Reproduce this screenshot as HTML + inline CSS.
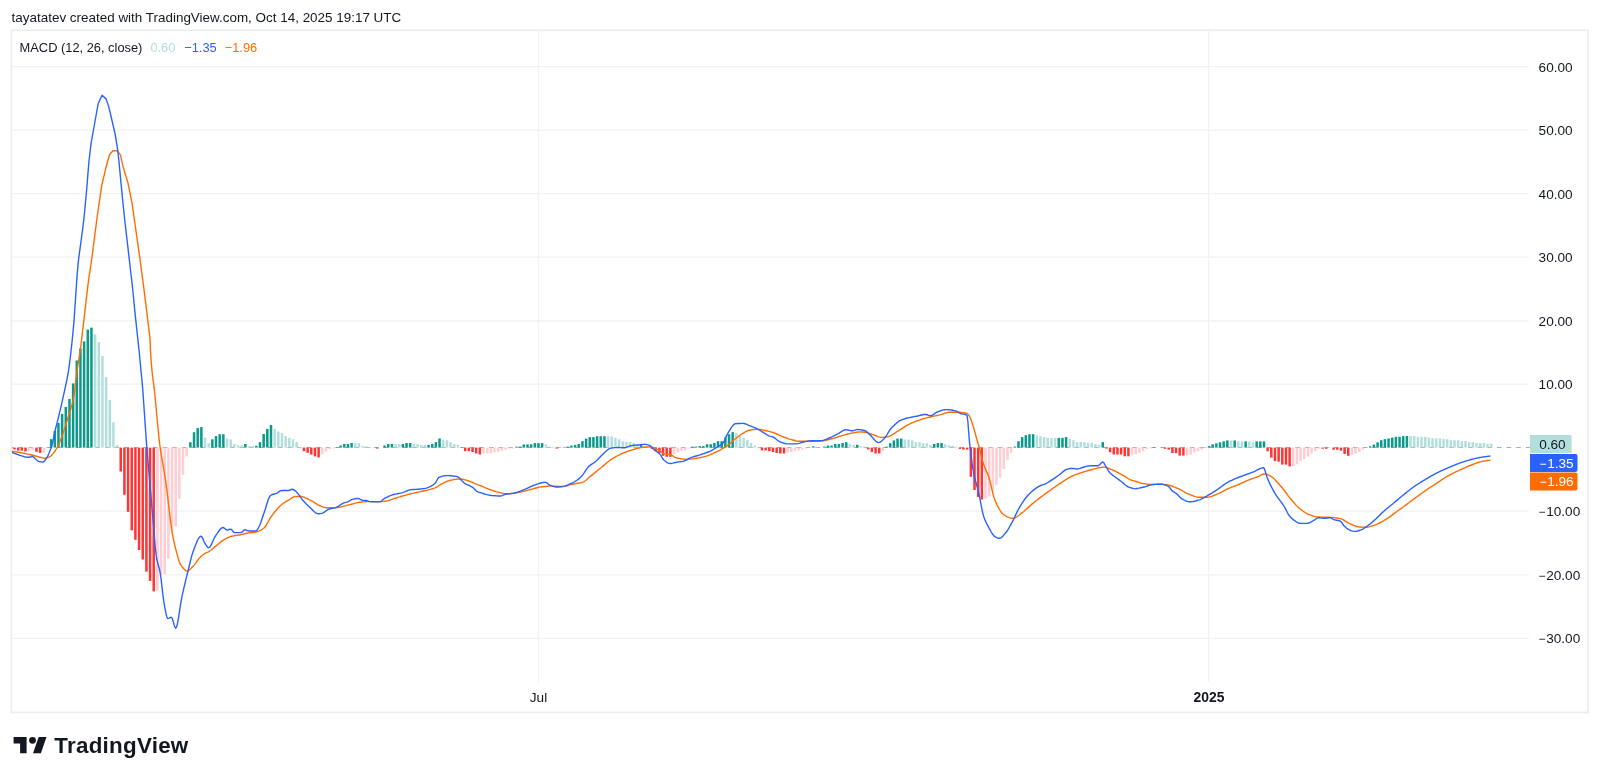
<!DOCTYPE html>
<html><head><meta charset="utf-8">
<style>
html,body{margin:0;padding:0;background:#fff;}
body{width:1600px;height:779px;overflow:hidden;position:relative;font-family:"Liberation Sans",sans-serif;color:#131722;}
svg{position:absolute;left:0;top:0;will-change:transform;}
</style></head><body>
<svg width="1600" height="779" viewBox="0 0 1600 779" font-family="Liberation Sans, sans-serif">
<defs><clipPath id="c"><rect x="12" y="31" width="1576" height="680"/></clipPath></defs>
<text x="11.6" y="21.9" font-size="13.45" fill="#131722">tayatatev created with TradingView.com, Oct 14, 2025 19:17 UTC</text>
<rect x="11.4" y="30.3" width="1576.6" height="682.1" fill="none" stroke="#ededed" stroke-width="1.7"/>
<g stroke="#f1f1f1" stroke-width="1.2">
<line x1="12" y1="66.6" x2="1529" y2="66.6"/>
<line x1="12" y1="130.2" x2="1529" y2="130.2"/>
<line x1="12" y1="193.7" x2="1529" y2="193.7"/>
<line x1="12" y1="257.2" x2="1529" y2="257.2"/>
<line x1="12" y1="320.8" x2="1529" y2="320.8"/>
<line x1="12" y1="384.2" x2="1529" y2="384.2"/>
<line x1="12" y1="511.2" x2="1529" y2="511.2"/>
<line x1="12" y1="574.8" x2="1529" y2="574.8"/>
<line x1="12" y1="638.4" x2="1529" y2="638.4"/>
<line x1="538.5" y1="31" x2="538.5" y2="682"/>
<line x1="1208.6" y1="31" x2="1208.6" y2="682"/>
</g>
<g clip-path="url(#c)">
<line x1="12" y1="447.5" x2="1530" y2="447.5" stroke="#9598a1" stroke-width="1" stroke-dasharray="4.6 5" stroke-dashoffset="-6.6" opacity="0.8"/>
<rect x="9.58" y="447.60" width="2.5" height="1.50" fill="#ff3535"/>
<rect x="13.24" y="447.60" width="2.5" height="1.85" fill="#ff3535"/>
<rect x="16.91" y="447.60" width="2.5" height="3.00" fill="#ff3535"/>
<rect x="20.57" y="447.60" width="2.5" height="3.00" fill="#ff3535"/>
<rect x="24.23" y="447.60" width="2.5" height="3.80" fill="#ff3535"/>
<rect x="27.90" y="447.60" width="2.5" height="3.50" fill="#ffcdd2"/>
<rect x="31.56" y="447.60" width="2.5" height="2.00" fill="#ffcdd2"/>
<rect x="35.23" y="447.60" width="2.5" height="4.20" fill="#ff3535"/>
<rect x="38.89" y="447.60" width="2.5" height="5.30" fill="#ff3535"/>
<rect x="42.56" y="447.60" width="2.5" height="4.90" fill="#ffcdd2"/>
<rect x="46.22" y="447.30" width="2.5" height="0.30" fill="#0a9a8a"/>
<rect x="49.88" y="439.20" width="2.5" height="8.40" fill="#0a9a8a"/>
<rect x="53.55" y="430.90" width="2.5" height="16.70" fill="#0a9a8a"/>
<rect x="57.21" y="422.90" width="2.5" height="24.70" fill="#0a9a8a"/>
<rect x="60.88" y="413.90" width="2.5" height="33.70" fill="#0a9a8a"/>
<rect x="64.54" y="406.90" width="2.5" height="40.70" fill="#0a9a8a"/>
<rect x="68.21" y="399.00" width="2.5" height="48.60" fill="#0a9a8a"/>
<rect x="71.87" y="383.40" width="2.5" height="64.20" fill="#0a9a8a"/>
<rect x="75.53" y="360.50" width="2.5" height="87.10" fill="#0a9a8a"/>
<rect x="79.20" y="348.40" width="2.5" height="99.20" fill="#0a9a8a"/>
<rect x="82.86" y="341.40" width="2.5" height="106.20" fill="#0a9a8a"/>
<rect x="86.53" y="329.60" width="2.5" height="118.00" fill="#0a9a8a"/>
<rect x="90.19" y="327.60" width="2.5" height="120.00" fill="#0a9a8a"/>
<rect x="93.85" y="334.40" width="2.5" height="113.20" fill="#b2dfdb"/>
<rect x="97.52" y="342.00" width="2.5" height="105.60" fill="#b2dfdb"/>
<rect x="101.18" y="356.00" width="2.5" height="91.60" fill="#b2dfdb"/>
<rect x="104.85" y="377.00" width="2.5" height="70.60" fill="#b2dfdb"/>
<rect x="108.51" y="399.90" width="2.5" height="47.70" fill="#b2dfdb"/>
<rect x="112.18" y="422.20" width="2.5" height="25.40" fill="#b2dfdb"/>
<rect x="115.84" y="445.10" width="2.5" height="2.50" fill="#b2dfdb"/>
<rect x="119.50" y="447.60" width="2.5" height="23.90" fill="#ff3535"/>
<rect x="123.17" y="447.60" width="2.5" height="47.10" fill="#ff3535"/>
<rect x="126.83" y="447.60" width="2.5" height="64.20" fill="#ff3535"/>
<rect x="130.50" y="447.60" width="2.5" height="82.70" fill="#ff3535"/>
<rect x="134.16" y="447.60" width="2.5" height="92.20" fill="#ff3535"/>
<rect x="137.82" y="447.60" width="2.5" height="102.40" fill="#ff3535"/>
<rect x="141.49" y="447.60" width="2.5" height="111.90" fill="#ff3535"/>
<rect x="145.15" y="447.60" width="2.5" height="124.00" fill="#ff3535"/>
<rect x="148.82" y="447.60" width="2.5" height="133.30" fill="#ff3535"/>
<rect x="152.48" y="447.60" width="2.5" height="143.80" fill="#ff3535"/>
<rect x="156.15" y="447.60" width="2.5" height="142.90" fill="#ffcdd2"/>
<rect x="159.81" y="447.60" width="2.5" height="127.50" fill="#ffcdd2"/>
<rect x="163.47" y="447.60" width="2.5" height="126.60" fill="#ffcdd2"/>
<rect x="167.14" y="447.60" width="2.5" height="111.00" fill="#ffcdd2"/>
<rect x="170.80" y="447.60" width="2.5" height="82.00" fill="#ffcdd2"/>
<rect x="174.47" y="447.60" width="2.5" height="78.90" fill="#ffcdd2"/>
<rect x="178.13" y="447.60" width="2.5" height="51.20" fill="#ffcdd2"/>
<rect x="181.79" y="447.60" width="2.5" height="27.10" fill="#ffcdd2"/>
<rect x="185.46" y="447.60" width="2.5" height="8.80" fill="#ffcdd2"/>
<rect x="189.12" y="442.20" width="2.5" height="5.40" fill="#0a9a8a"/>
<rect x="192.79" y="432.20" width="2.5" height="15.40" fill="#0a9a8a"/>
<rect x="196.45" y="428.10" width="2.5" height="19.50" fill="#0a9a8a"/>
<rect x="200.12" y="427.10" width="2.5" height="20.50" fill="#0a9a8a"/>
<rect x="203.78" y="437.60" width="2.5" height="10.00" fill="#b2dfdb"/>
<rect x="207.44" y="443.30" width="2.5" height="4.30" fill="#b2dfdb"/>
<rect x="211.11" y="439.30" width="2.5" height="8.30" fill="#0a9a8a"/>
<rect x="214.77" y="436.10" width="2.5" height="11.50" fill="#0a9a8a"/>
<rect x="218.44" y="434.20" width="2.5" height="13.40" fill="#0a9a8a"/>
<rect x="222.10" y="434.20" width="2.5" height="13.40" fill="#0a9a8a"/>
<rect x="225.77" y="438.60" width="2.5" height="9.00" fill="#b2dfdb"/>
<rect x="229.43" y="439.40" width="2.5" height="8.20" fill="#b2dfdb"/>
<rect x="233.09" y="444.00" width="2.5" height="3.60" fill="#b2dfdb"/>
<rect x="236.76" y="445.10" width="2.5" height="2.50" fill="#b2dfdb"/>
<rect x="240.42" y="445.20" width="2.5" height="2.40" fill="#b2dfdb"/>
<rect x="244.09" y="444.00" width="2.5" height="3.60" fill="#0a9a8a"/>
<rect x="247.75" y="446.10" width="2.5" height="1.50" fill="#b2dfdb"/>
<rect x="251.41" y="446.10" width="2.5" height="1.50" fill="#b2dfdb"/>
<rect x="255.08" y="445.80" width="2.5" height="1.80" fill="#0a9a8a"/>
<rect x="258.74" y="442.20" width="2.5" height="5.40" fill="#0a9a8a"/>
<rect x="262.41" y="434.00" width="2.5" height="13.60" fill="#0a9a8a"/>
<rect x="266.07" y="429.00" width="2.5" height="18.60" fill="#0a9a8a"/>
<rect x="269.74" y="425.00" width="2.5" height="22.60" fill="#0a9a8a"/>
<rect x="273.40" y="429.00" width="2.5" height="18.60" fill="#b2dfdb"/>
<rect x="277.06" y="431.50" width="2.5" height="16.10" fill="#b2dfdb"/>
<rect x="280.73" y="433.10" width="2.5" height="14.50" fill="#b2dfdb"/>
<rect x="284.39" y="436.10" width="2.5" height="11.50" fill="#b2dfdb"/>
<rect x="288.06" y="437.90" width="2.5" height="9.70" fill="#b2dfdb"/>
<rect x="291.72" y="439.30" width="2.5" height="8.30" fill="#b2dfdb"/>
<rect x="295.38" y="442.00" width="2.5" height="5.60" fill="#b2dfdb"/>
<rect x="299.05" y="447.10" width="2.5" height="0.50" fill="#b2dfdb"/>
<rect x="302.71" y="447.60" width="2.5" height="3.60" fill="#ff3535"/>
<rect x="306.38" y="447.60" width="2.5" height="5.20" fill="#ff3535"/>
<rect x="310.04" y="447.60" width="2.5" height="7.00" fill="#ff3535"/>
<rect x="313.71" y="447.60" width="2.5" height="8.80" fill="#ff3535"/>
<rect x="317.37" y="447.60" width="2.5" height="9.80" fill="#ff3535"/>
<rect x="321.03" y="447.60" width="2.5" height="6.70" fill="#ffcdd2"/>
<rect x="324.70" y="447.60" width="2.5" height="4.10" fill="#ffcdd2"/>
<rect x="328.36" y="447.60" width="2.5" height="1.60" fill="#ffcdd2"/>
<rect x="332.03" y="447.60" width="2.5" height="0.80" fill="#ffcdd2"/>
<rect x="335.69" y="447.20" width="2.5" height="0.40" fill="#0a9a8a"/>
<rect x="339.36" y="445.50" width="2.5" height="2.10" fill="#0a9a8a"/>
<rect x="343.02" y="444.00" width="2.5" height="3.60" fill="#0a9a8a"/>
<rect x="346.68" y="444.00" width="2.5" height="3.60" fill="#0a9a8a"/>
<rect x="350.35" y="443.00" width="2.5" height="4.60" fill="#0a9a8a"/>
<rect x="354.01" y="443.20" width="2.5" height="4.40" fill="#b2dfdb"/>
<rect x="357.68" y="443.20" width="2.5" height="4.40" fill="#b2dfdb"/>
<rect x="361.34" y="445.80" width="2.5" height="1.80" fill="#b2dfdb"/>
<rect x="365.00" y="446.60" width="2.5" height="1.00" fill="#b2dfdb"/>
<rect x="368.67" y="447.60" width="2.5" height="0.30" fill="#ff3535"/>
<rect x="372.33" y="447.60" width="2.5" height="0.10" fill="#ffcdd2"/>
<rect x="376.00" y="447.60" width="2.5" height="1.00" fill="#ff3535"/>
<rect x="379.66" y="447.60" width="2.5" height="0.10" fill="#ffcdd2"/>
<rect x="383.33" y="445.50" width="2.5" height="2.10" fill="#0a9a8a"/>
<rect x="386.99" y="444.00" width="2.5" height="3.60" fill="#0a9a8a"/>
<rect x="390.65" y="443.90" width="2.5" height="3.70" fill="#0a9a8a"/>
<rect x="394.32" y="444.00" width="2.5" height="3.60" fill="#b2dfdb"/>
<rect x="397.98" y="444.10" width="2.5" height="3.50" fill="#b2dfdb"/>
<rect x="401.65" y="444.00" width="2.5" height="3.60" fill="#0a9a8a"/>
<rect x="405.31" y="443.00" width="2.5" height="4.60" fill="#0a9a8a"/>
<rect x="408.97" y="443.00" width="2.5" height="4.60" fill="#0a9a8a"/>
<rect x="412.64" y="444.00" width="2.5" height="3.60" fill="#b2dfdb"/>
<rect x="416.30" y="444.00" width="2.5" height="3.60" fill="#b2dfdb"/>
<rect x="419.97" y="445.00" width="2.5" height="2.60" fill="#b2dfdb"/>
<rect x="423.63" y="445.00" width="2.5" height="2.60" fill="#b2dfdb"/>
<rect x="427.30" y="444.90" width="2.5" height="2.70" fill="#0a9a8a"/>
<rect x="430.96" y="444.00" width="2.5" height="3.60" fill="#0a9a8a"/>
<rect x="434.62" y="442.20" width="2.5" height="5.40" fill="#0a9a8a"/>
<rect x="438.29" y="438.40" width="2.5" height="9.20" fill="#0a9a8a"/>
<rect x="441.95" y="440.20" width="2.5" height="7.40" fill="#b2dfdb"/>
<rect x="445.62" y="440.20" width="2.5" height="7.40" fill="#b2dfdb"/>
<rect x="449.28" y="442.20" width="2.5" height="5.40" fill="#b2dfdb"/>
<rect x="452.94" y="444.00" width="2.5" height="3.60" fill="#b2dfdb"/>
<rect x="456.61" y="445.00" width="2.5" height="2.60" fill="#b2dfdb"/>
<rect x="460.27" y="447.60" width="2.5" height="0.30" fill="#ff3535"/>
<rect x="463.94" y="447.60" width="2.5" height="3.60" fill="#ff3535"/>
<rect x="467.60" y="447.60" width="2.5" height="3.60" fill="#ff3535"/>
<rect x="471.27" y="447.60" width="2.5" height="4.40" fill="#ff3535"/>
<rect x="474.93" y="447.60" width="2.5" height="5.90" fill="#ff3535"/>
<rect x="478.59" y="447.60" width="2.5" height="6.90" fill="#ff3535"/>
<rect x="482.26" y="447.60" width="2.5" height="5.90" fill="#ffcdd2"/>
<rect x="485.92" y="447.60" width="2.5" height="5.80" fill="#ffcdd2"/>
<rect x="489.59" y="447.60" width="2.5" height="5.70" fill="#ffcdd2"/>
<rect x="493.25" y="447.60" width="2.5" height="4.60" fill="#ffcdd2"/>
<rect x="496.92" y="447.60" width="2.5" height="4.60" fill="#ffcdd2"/>
<rect x="500.58" y="447.60" width="2.5" height="3.10" fill="#ffcdd2"/>
<rect x="504.24" y="447.60" width="2.5" height="2.10" fill="#ffcdd2"/>
<rect x="507.91" y="447.60" width="2.5" height="1.00" fill="#ffcdd2"/>
<rect x="511.57" y="447.60" width="2.5" height="1.00" fill="#ffcdd2"/>
<rect x="515.24" y="446.60" width="2.5" height="1.00" fill="#0a9a8a"/>
<rect x="518.90" y="446.50" width="2.5" height="1.10" fill="#0a9a8a"/>
<rect x="522.56" y="444.50" width="2.5" height="3.10" fill="#0a9a8a"/>
<rect x="526.23" y="444.40" width="2.5" height="3.20" fill="#0a9a8a"/>
<rect x="529.89" y="444.30" width="2.5" height="3.30" fill="#0a9a8a"/>
<rect x="533.56" y="443.10" width="2.5" height="4.50" fill="#0a9a8a"/>
<rect x="537.22" y="443.10" width="2.5" height="4.50" fill="#0a9a8a"/>
<rect x="540.89" y="443.10" width="2.5" height="4.50" fill="#0a9a8a"/>
<rect x="544.55" y="444.30" width="2.5" height="3.30" fill="#b2dfdb"/>
<rect x="548.21" y="446.80" width="2.5" height="0.80" fill="#b2dfdb"/>
<rect x="551.88" y="446.80" width="2.5" height="0.80" fill="#b2dfdb"/>
<rect x="555.54" y="447.60" width="2.5" height="1.00" fill="#ff3535"/>
<rect x="559.21" y="447.60" width="2.5" height="0.50" fill="#ffcdd2"/>
<rect x="562.87" y="447.10" width="2.5" height="0.50" fill="#0a9a8a"/>
<rect x="566.53" y="446.60" width="2.5" height="1.00" fill="#0a9a8a"/>
<rect x="570.20" y="445.50" width="2.5" height="2.10" fill="#0a9a8a"/>
<rect x="573.86" y="444.90" width="2.5" height="2.70" fill="#0a9a8a"/>
<rect x="577.53" y="444.00" width="2.5" height="3.60" fill="#0a9a8a"/>
<rect x="581.19" y="441.20" width="2.5" height="6.40" fill="#0a9a8a"/>
<rect x="584.86" y="438.60" width="2.5" height="9.00" fill="#0a9a8a"/>
<rect x="588.52" y="437.10" width="2.5" height="10.50" fill="#0a9a8a"/>
<rect x="592.18" y="437.10" width="2.5" height="10.50" fill="#0a9a8a"/>
<rect x="595.85" y="436.20" width="2.5" height="11.40" fill="#0a9a8a"/>
<rect x="599.51" y="436.20" width="2.5" height="11.40" fill="#0a9a8a"/>
<rect x="603.18" y="436.20" width="2.5" height="11.40" fill="#0a9a8a"/>
<rect x="606.84" y="436.30" width="2.5" height="11.30" fill="#b2dfdb"/>
<rect x="610.51" y="436.40" width="2.5" height="11.20" fill="#b2dfdb"/>
<rect x="614.17" y="437.80" width="2.5" height="9.80" fill="#b2dfdb"/>
<rect x="617.83" y="439.30" width="2.5" height="8.30" fill="#b2dfdb"/>
<rect x="621.50" y="441.20" width="2.5" height="6.40" fill="#b2dfdb"/>
<rect x="625.16" y="442.00" width="2.5" height="5.60" fill="#b2dfdb"/>
<rect x="628.83" y="442.00" width="2.5" height="5.60" fill="#b2dfdb"/>
<rect x="632.49" y="443.00" width="2.5" height="4.60" fill="#b2dfdb"/>
<rect x="636.15" y="444.40" width="2.5" height="3.20" fill="#b2dfdb"/>
<rect x="639.82" y="444.30" width="2.5" height="3.30" fill="#0a9a8a"/>
<rect x="643.48" y="446.10" width="2.5" height="1.50" fill="#b2dfdb"/>
<rect x="647.15" y="447.60" width="2.5" height="0.30" fill="#ff3535"/>
<rect x="650.81" y="447.60" width="2.5" height="1.30" fill="#ff3535"/>
<rect x="654.48" y="447.60" width="2.5" height="3.30" fill="#ff3535"/>
<rect x="658.14" y="447.60" width="2.5" height="5.40" fill="#ff3535"/>
<rect x="661.80" y="447.60" width="2.5" height="8.20" fill="#ff3535"/>
<rect x="665.47" y="447.60" width="2.5" height="9.20" fill="#ff3535"/>
<rect x="669.13" y="447.60" width="2.5" height="9.20" fill="#ff3535"/>
<rect x="672.80" y="447.60" width="2.5" height="6.40" fill="#ffcdd2"/>
<rect x="676.46" y="447.60" width="2.5" height="4.90" fill="#ffcdd2"/>
<rect x="680.12" y="447.60" width="2.5" height="3.10" fill="#ffcdd2"/>
<rect x="683.79" y="447.60" width="2.5" height="3.10" fill="#ffcdd2"/>
<rect x="687.45" y="447.60" width="2.5" height="1.00" fill="#ffcdd2"/>
<rect x="691.12" y="446.60" width="2.5" height="1.00" fill="#0a9a8a"/>
<rect x="694.78" y="446.60" width="2.5" height="1.00" fill="#0a9a8a"/>
<rect x="698.45" y="446.10" width="2.5" height="1.50" fill="#0a9a8a"/>
<rect x="702.11" y="446.10" width="2.5" height="1.50" fill="#0a9a8a"/>
<rect x="705.77" y="444.30" width="2.5" height="3.30" fill="#0a9a8a"/>
<rect x="709.44" y="444.20" width="2.5" height="3.40" fill="#0a9a8a"/>
<rect x="713.10" y="443.00" width="2.5" height="4.60" fill="#0a9a8a"/>
<rect x="716.77" y="441.20" width="2.5" height="6.40" fill="#0a9a8a"/>
<rect x="720.43" y="441.20" width="2.5" height="6.40" fill="#0a9a8a"/>
<rect x="724.10" y="437.60" width="2.5" height="10.00" fill="#0a9a8a"/>
<rect x="727.76" y="434.20" width="2.5" height="13.40" fill="#0a9a8a"/>
<rect x="731.42" y="432.20" width="2.5" height="15.40" fill="#0a9a8a"/>
<rect x="735.09" y="433.20" width="2.5" height="14.40" fill="#b2dfdb"/>
<rect x="738.75" y="436.00" width="2.5" height="11.60" fill="#b2dfdb"/>
<rect x="742.42" y="437.80" width="2.5" height="9.80" fill="#b2dfdb"/>
<rect x="746.08" y="440.20" width="2.5" height="7.40" fill="#b2dfdb"/>
<rect x="749.74" y="443.00" width="2.5" height="4.60" fill="#b2dfdb"/>
<rect x="753.41" y="445.50" width="2.5" height="2.10" fill="#b2dfdb"/>
<rect x="757.07" y="447.10" width="2.5" height="0.50" fill="#b2dfdb"/>
<rect x="760.74" y="447.60" width="2.5" height="2.80" fill="#ff3535"/>
<rect x="764.40" y="447.60" width="2.5" height="2.80" fill="#ff3535"/>
<rect x="768.07" y="447.60" width="2.5" height="3.60" fill="#ff3535"/>
<rect x="771.73" y="447.60" width="2.5" height="4.40" fill="#ff3535"/>
<rect x="775.39" y="447.60" width="2.5" height="5.40" fill="#ff3535"/>
<rect x="779.06" y="447.60" width="2.5" height="5.90" fill="#ff3535"/>
<rect x="782.72" y="447.60" width="2.5" height="5.90" fill="#ff3535"/>
<rect x="786.39" y="447.60" width="2.5" height="5.00" fill="#ffcdd2"/>
<rect x="790.05" y="447.60" width="2.5" height="4.40" fill="#ffcdd2"/>
<rect x="793.71" y="447.60" width="2.5" height="3.60" fill="#ffcdd2"/>
<rect x="797.38" y="447.60" width="2.5" height="2.80" fill="#ffcdd2"/>
<rect x="801.04" y="447.60" width="2.5" height="1.80" fill="#ffcdd2"/>
<rect x="804.71" y="447.60" width="2.5" height="0.80" fill="#ffcdd2"/>
<rect x="808.37" y="447.60" width="2.5" height="0.20" fill="#ffcdd2"/>
<rect x="812.04" y="446.30" width="2.5" height="1.30" fill="#0a9a8a"/>
<rect x="815.70" y="447.30" width="2.5" height="0.30" fill="#b2dfdb"/>
<rect x="819.36" y="447.30" width="2.5" height="0.30" fill="#b2dfdb"/>
<rect x="823.03" y="446.60" width="2.5" height="1.00" fill="#0a9a8a"/>
<rect x="826.69" y="445.50" width="2.5" height="2.10" fill="#0a9a8a"/>
<rect x="830.36" y="445.50" width="2.5" height="2.10" fill="#0a9a8a"/>
<rect x="834.02" y="444.00" width="2.5" height="3.60" fill="#0a9a8a"/>
<rect x="837.68" y="444.00" width="2.5" height="3.60" fill="#0a9a8a"/>
<rect x="841.35" y="443.00" width="2.5" height="4.60" fill="#0a9a8a"/>
<rect x="845.01" y="442.20" width="2.5" height="5.40" fill="#0a9a8a"/>
<rect x="848.68" y="444.00" width="2.5" height="3.60" fill="#b2dfdb"/>
<rect x="852.34" y="445.00" width="2.5" height="2.60" fill="#b2dfdb"/>
<rect x="856.01" y="444.80" width="2.5" height="2.80" fill="#0a9a8a"/>
<rect x="859.67" y="446.00" width="2.5" height="1.60" fill="#b2dfdb"/>
<rect x="863.33" y="446.60" width="2.5" height="1.00" fill="#b2dfdb"/>
<rect x="867.00" y="447.60" width="2.5" height="1.80" fill="#ff3535"/>
<rect x="870.66" y="447.60" width="2.5" height="4.40" fill="#ff3535"/>
<rect x="874.33" y="447.60" width="2.5" height="5.90" fill="#ff3535"/>
<rect x="877.99" y="447.60" width="2.5" height="5.90" fill="#ff3535"/>
<rect x="881.66" y="447.60" width="2.5" height="3.30" fill="#ffcdd2"/>
<rect x="885.32" y="446.60" width="2.5" height="1.00" fill="#0a9a8a"/>
<rect x="888.98" y="443.20" width="2.5" height="4.40" fill="#0a9a8a"/>
<rect x="892.65" y="440.40" width="2.5" height="7.20" fill="#0a9a8a"/>
<rect x="896.31" y="438.60" width="2.5" height="9.00" fill="#0a9a8a"/>
<rect x="899.98" y="438.60" width="2.5" height="9.00" fill="#0a9a8a"/>
<rect x="903.64" y="439.60" width="2.5" height="8.00" fill="#b2dfdb"/>
<rect x="907.30" y="439.60" width="2.5" height="8.00" fill="#b2dfdb"/>
<rect x="910.97" y="440.40" width="2.5" height="7.20" fill="#b2dfdb"/>
<rect x="914.63" y="442.20" width="2.5" height="5.40" fill="#b2dfdb"/>
<rect x="918.30" y="442.20" width="2.5" height="5.40" fill="#b2dfdb"/>
<rect x="921.96" y="443.20" width="2.5" height="4.40" fill="#b2dfdb"/>
<rect x="925.63" y="443.20" width="2.5" height="4.40" fill="#b2dfdb"/>
<rect x="929.29" y="445.00" width="2.5" height="2.60" fill="#b2dfdb"/>
<rect x="932.95" y="444.00" width="2.5" height="3.60" fill="#0a9a8a"/>
<rect x="936.62" y="443.10" width="2.5" height="4.50" fill="#0a9a8a"/>
<rect x="940.28" y="443.00" width="2.5" height="4.60" fill="#0a9a8a"/>
<rect x="943.95" y="444.30" width="2.5" height="3.30" fill="#b2dfdb"/>
<rect x="947.61" y="445.30" width="2.5" height="2.30" fill="#b2dfdb"/>
<rect x="951.27" y="445.80" width="2.5" height="1.80" fill="#b2dfdb"/>
<rect x="954.94" y="446.60" width="2.5" height="1.00" fill="#b2dfdb"/>
<rect x="958.60" y="447.60" width="2.5" height="1.30" fill="#ff3535"/>
<rect x="962.27" y="447.60" width="2.5" height="2.00" fill="#ff3535"/>
<rect x="965.93" y="447.60" width="2.5" height="2.00" fill="#ff3535"/>
<rect x="969.60" y="447.60" width="2.5" height="29.20" fill="#ff3535"/>
<rect x="973.26" y="447.60" width="2.5" height="42.40" fill="#ff3535"/>
<rect x="976.92" y="447.60" width="2.5" height="49.40" fill="#ff3535"/>
<rect x="980.59" y="447.60" width="2.5" height="51.90" fill="#ff3535"/>
<rect x="984.25" y="447.60" width="2.5" height="51.00" fill="#ffcdd2"/>
<rect x="987.92" y="447.60" width="2.5" height="48.70" fill="#ffcdd2"/>
<rect x="991.58" y="447.60" width="2.5" height="43.60" fill="#ffcdd2"/>
<rect x="995.25" y="447.60" width="2.5" height="37.20" fill="#ffcdd2"/>
<rect x="998.91" y="447.60" width="2.5" height="30.10" fill="#ffcdd2"/>
<rect x="1002.57" y="447.60" width="2.5" height="21.50" fill="#ffcdd2"/>
<rect x="1006.24" y="447.60" width="2.5" height="12.50" fill="#ffcdd2"/>
<rect x="1009.90" y="447.60" width="2.5" height="5.20" fill="#ffcdd2"/>
<rect x="1013.57" y="446.60" width="2.5" height="1.00" fill="#0a9a8a"/>
<rect x="1017.23" y="441.20" width="2.5" height="6.40" fill="#0a9a8a"/>
<rect x="1020.89" y="437.10" width="2.5" height="10.50" fill="#0a9a8a"/>
<rect x="1024.56" y="435.20" width="2.5" height="12.40" fill="#0a9a8a"/>
<rect x="1028.22" y="434.20" width="2.5" height="13.40" fill="#0a9a8a"/>
<rect x="1031.89" y="434.20" width="2.5" height="13.40" fill="#0a9a8a"/>
<rect x="1035.55" y="435.30" width="2.5" height="12.30" fill="#b2dfdb"/>
<rect x="1039.22" y="436.20" width="2.5" height="11.40" fill="#b2dfdb"/>
<rect x="1042.88" y="437.10" width="2.5" height="10.50" fill="#b2dfdb"/>
<rect x="1046.54" y="437.90" width="2.5" height="9.70" fill="#b2dfdb"/>
<rect x="1050.21" y="437.90" width="2.5" height="9.70" fill="#b2dfdb"/>
<rect x="1053.87" y="438.00" width="2.5" height="9.60" fill="#b2dfdb"/>
<rect x="1057.54" y="437.90" width="2.5" height="9.70" fill="#0a9a8a"/>
<rect x="1061.20" y="437.90" width="2.5" height="9.70" fill="#0a9a8a"/>
<rect x="1064.86" y="437.10" width="2.5" height="10.50" fill="#0a9a8a"/>
<rect x="1068.53" y="438.90" width="2.5" height="8.70" fill="#b2dfdb"/>
<rect x="1072.19" y="440.20" width="2.5" height="7.40" fill="#b2dfdb"/>
<rect x="1075.86" y="442.10" width="2.5" height="5.50" fill="#b2dfdb"/>
<rect x="1079.52" y="442.10" width="2.5" height="5.50" fill="#b2dfdb"/>
<rect x="1083.19" y="442.10" width="2.5" height="5.50" fill="#b2dfdb"/>
<rect x="1086.85" y="443.00" width="2.5" height="4.60" fill="#b2dfdb"/>
<rect x="1090.51" y="443.00" width="2.5" height="4.60" fill="#b2dfdb"/>
<rect x="1094.18" y="444.00" width="2.5" height="3.60" fill="#b2dfdb"/>
<rect x="1097.84" y="445.00" width="2.5" height="2.60" fill="#b2dfdb"/>
<rect x="1101.51" y="442.10" width="2.5" height="5.50" fill="#0a9a8a"/>
<rect x="1105.17" y="447.60" width="2.5" height="1.00" fill="#ff3535"/>
<rect x="1108.84" y="447.60" width="2.5" height="4.60" fill="#ff3535"/>
<rect x="1112.50" y="447.60" width="2.5" height="6.90" fill="#ff3535"/>
<rect x="1116.16" y="447.60" width="2.5" height="6.90" fill="#ff3535"/>
<rect x="1119.83" y="447.60" width="2.5" height="6.90" fill="#ff3535"/>
<rect x="1123.49" y="447.60" width="2.5" height="8.70" fill="#ff3535"/>
<rect x="1127.16" y="447.60" width="2.5" height="8.70" fill="#ff3535"/>
<rect x="1130.82" y="447.60" width="2.5" height="7.70" fill="#ffcdd2"/>
<rect x="1134.48" y="447.60" width="2.5" height="6.70" fill="#ffcdd2"/>
<rect x="1138.15" y="447.60" width="2.5" height="5.10" fill="#ffcdd2"/>
<rect x="1141.81" y="447.60" width="2.5" height="3.30" fill="#ffcdd2"/>
<rect x="1145.48" y="447.60" width="2.5" height="1.50" fill="#ffcdd2"/>
<rect x="1149.14" y="447.60" width="2.5" height="0.80" fill="#ffcdd2"/>
<rect x="1152.81" y="447.10" width="2.5" height="0.50" fill="#0a9a8a"/>
<rect x="1156.47" y="447.40" width="2.5" height="0.20" fill="#b2dfdb"/>
<rect x="1160.13" y="447.60" width="2.5" height="0.30" fill="#ff3535"/>
<rect x="1163.80" y="447.60" width="2.5" height="1.20" fill="#ff3535"/>
<rect x="1167.46" y="447.60" width="2.5" height="2.00" fill="#ff3535"/>
<rect x="1171.13" y="447.60" width="2.5" height="5.40" fill="#ff3535"/>
<rect x="1174.79" y="447.60" width="2.5" height="5.60" fill="#ff3535"/>
<rect x="1178.45" y="447.60" width="2.5" height="8.00" fill="#ff3535"/>
<rect x="1182.12" y="447.60" width="2.5" height="8.00" fill="#ff3535"/>
<rect x="1185.78" y="447.60" width="2.5" height="7.90" fill="#ffcdd2"/>
<rect x="1189.45" y="447.60" width="2.5" height="6.90" fill="#ffcdd2"/>
<rect x="1193.11" y="447.60" width="2.5" height="4.60" fill="#ffcdd2"/>
<rect x="1196.78" y="447.60" width="2.5" height="3.60" fill="#ffcdd2"/>
<rect x="1200.44" y="447.60" width="2.5" height="1.80" fill="#ffcdd2"/>
<rect x="1204.10" y="447.30" width="2.5" height="0.30" fill="#0a9a8a"/>
<rect x="1207.77" y="446.10" width="2.5" height="1.50" fill="#0a9a8a"/>
<rect x="1211.43" y="444.30" width="2.5" height="3.30" fill="#0a9a8a"/>
<rect x="1215.10" y="443.30" width="2.5" height="4.30" fill="#0a9a8a"/>
<rect x="1218.76" y="442.30" width="2.5" height="5.30" fill="#0a9a8a"/>
<rect x="1222.42" y="441.30" width="2.5" height="6.30" fill="#0a9a8a"/>
<rect x="1226.09" y="440.40" width="2.5" height="7.20" fill="#0a9a8a"/>
<rect x="1229.75" y="440.50" width="2.5" height="7.10" fill="#b2dfdb"/>
<rect x="1233.42" y="440.40" width="2.5" height="7.20" fill="#0a9a8a"/>
<rect x="1237.08" y="441.30" width="2.5" height="6.30" fill="#b2dfdb"/>
<rect x="1240.75" y="441.40" width="2.5" height="6.20" fill="#b2dfdb"/>
<rect x="1244.41" y="441.30" width="2.5" height="6.30" fill="#0a9a8a"/>
<rect x="1248.07" y="441.40" width="2.5" height="6.20" fill="#b2dfdb"/>
<rect x="1251.74" y="442.30" width="2.5" height="5.30" fill="#b2dfdb"/>
<rect x="1255.40" y="441.40" width="2.5" height="6.20" fill="#0a9a8a"/>
<rect x="1259.07" y="441.40" width="2.5" height="6.20" fill="#0a9a8a"/>
<rect x="1262.73" y="441.40" width="2.5" height="6.20" fill="#0a9a8a"/>
<rect x="1266.40" y="447.60" width="2.5" height="3.70" fill="#ff3535"/>
<rect x="1270.06" y="447.60" width="2.5" height="10.00" fill="#ff3535"/>
<rect x="1273.72" y="447.60" width="2.5" height="13.50" fill="#ff3535"/>
<rect x="1277.39" y="447.60" width="2.5" height="14.10" fill="#ff3535"/>
<rect x="1281.05" y="447.60" width="2.5" height="17.00" fill="#ff3535"/>
<rect x="1284.72" y="447.60" width="2.5" height="17.00" fill="#ff3535"/>
<rect x="1288.38" y="447.60" width="2.5" height="18.80" fill="#ff3535"/>
<rect x="1292.04" y="447.60" width="2.5" height="18.60" fill="#ffcdd2"/>
<rect x="1295.71" y="447.60" width="2.5" height="16.70" fill="#ffcdd2"/>
<rect x="1299.37" y="447.60" width="2.5" height="13.60" fill="#ffcdd2"/>
<rect x="1303.04" y="447.60" width="2.5" height="11.50" fill="#ffcdd2"/>
<rect x="1306.70" y="447.60" width="2.5" height="8.90" fill="#ffcdd2"/>
<rect x="1310.37" y="447.60" width="2.5" height="5.90" fill="#ffcdd2"/>
<rect x="1314.03" y="447.60" width="2.5" height="3.60" fill="#ffcdd2"/>
<rect x="1317.69" y="447.60" width="2.5" height="1.10" fill="#ffcdd2"/>
<rect x="1321.36" y="447.60" width="2.5" height="1.15" fill="#ff3535"/>
<rect x="1325.02" y="447.60" width="2.5" height="1.20" fill="#ff3535"/>
<rect x="1328.69" y="447.60" width="2.5" height="0.40" fill="#ffcdd2"/>
<rect x="1332.35" y="447.60" width="2.5" height="2.10" fill="#ff3535"/>
<rect x="1336.01" y="447.60" width="2.5" height="2.10" fill="#ff3535"/>
<rect x="1339.68" y="447.60" width="2.5" height="3.00" fill="#ff3535"/>
<rect x="1343.34" y="447.60" width="2.5" height="6.40" fill="#ff3535"/>
<rect x="1347.01" y="447.60" width="2.5" height="8.20" fill="#ff3535"/>
<rect x="1350.67" y="447.60" width="2.5" height="7.30" fill="#ffcdd2"/>
<rect x="1354.34" y="447.60" width="2.5" height="6.00" fill="#ffcdd2"/>
<rect x="1358.00" y="447.60" width="2.5" height="4.30" fill="#ffcdd2"/>
<rect x="1361.66" y="447.60" width="2.5" height="2.10" fill="#ffcdd2"/>
<rect x="1365.33" y="447.50" width="2.5" height="0.10" fill="#0a9a8a"/>
<rect x="1368.99" y="446.30" width="2.5" height="1.30" fill="#0a9a8a"/>
<rect x="1372.66" y="444.60" width="2.5" height="3.00" fill="#0a9a8a"/>
<rect x="1376.32" y="442.30" width="2.5" height="5.30" fill="#0a9a8a"/>
<rect x="1379.99" y="440.20" width="2.5" height="7.40" fill="#0a9a8a"/>
<rect x="1383.65" y="439.10" width="2.5" height="8.50" fill="#0a9a8a"/>
<rect x="1387.31" y="438.40" width="2.5" height="9.20" fill="#0a9a8a"/>
<rect x="1390.98" y="437.60" width="2.5" height="10.00" fill="#0a9a8a"/>
<rect x="1394.64" y="436.80" width="2.5" height="10.80" fill="#0a9a8a"/>
<rect x="1398.31" y="436.80" width="2.5" height="10.80" fill="#0a9a8a"/>
<rect x="1401.97" y="436.10" width="2.5" height="11.50" fill="#0a9a8a"/>
<rect x="1405.63" y="436.00" width="2.5" height="11.60" fill="#0a9a8a"/>
<rect x="1409.30" y="436.10" width="2.5" height="11.50" fill="#b2dfdb"/>
<rect x="1412.96" y="436.10" width="2.5" height="11.50" fill="#b2dfdb"/>
<rect x="1416.63" y="436.80" width="2.5" height="10.80" fill="#b2dfdb"/>
<rect x="1420.29" y="436.80" width="2.5" height="10.80" fill="#b2dfdb"/>
<rect x="1423.96" y="436.80" width="2.5" height="10.80" fill="#b2dfdb"/>
<rect x="1427.62" y="437.60" width="2.5" height="10.00" fill="#b2dfdb"/>
<rect x="1431.28" y="438.00" width="2.5" height="9.60" fill="#b2dfdb"/>
<rect x="1434.95" y="438.40" width="2.5" height="9.20" fill="#b2dfdb"/>
<rect x="1438.61" y="438.40" width="2.5" height="9.20" fill="#b2dfdb"/>
<rect x="1442.28" y="439.10" width="2.5" height="8.50" fill="#b2dfdb"/>
<rect x="1445.94" y="439.10" width="2.5" height="8.50" fill="#b2dfdb"/>
<rect x="1449.60" y="440.20" width="2.5" height="7.40" fill="#b2dfdb"/>
<rect x="1453.27" y="440.20" width="2.5" height="7.40" fill="#b2dfdb"/>
<rect x="1456.93" y="440.20" width="2.5" height="7.40" fill="#b2dfdb"/>
<rect x="1460.60" y="441.10" width="2.5" height="6.50" fill="#b2dfdb"/>
<rect x="1464.26" y="441.10" width="2.5" height="6.50" fill="#b2dfdb"/>
<rect x="1467.93" y="442.20" width="2.5" height="5.40" fill="#b2dfdb"/>
<rect x="1471.59" y="442.20" width="2.5" height="5.40" fill="#b2dfdb"/>
<rect x="1475.25" y="443.00" width="2.5" height="4.60" fill="#b2dfdb"/>
<rect x="1478.92" y="443.00" width="2.5" height="4.60" fill="#b2dfdb"/>
<rect x="1482.58" y="443.00" width="2.5" height="4.60" fill="#b2dfdb"/>
<rect x="1486.25" y="443.80" width="2.5" height="3.80" fill="#b2dfdb"/>
<rect x="1489.91" y="443.80" width="2.5" height="3.80" fill="#b2dfdb"/>
<polyline points="11.90,451.30 12.89,451.45 13.88,451.60 14.87,451.75 15.86,451.90 16.84,452.05 17.83,452.20 18.82,452.36 19.81,452.53 20.80,452.70 21.79,452.88 22.78,453.07 23.77,453.26 24.76,453.46 25.75,453.67 26.75,453.88 27.74,454.10 28.73,454.32 29.72,454.54 30.71,454.77 31.70,455.00 32.63,455.23 33.57,455.47 34.50,455.72 35.43,455.98 36.37,456.24 37.30,456.50 38.23,456.75 39.17,456.98 40.10,457.20 40.95,457.40 41.80,457.63 42.65,457.84 43.50,458.02 44.35,458.15 45.20,458.20 46.07,458.13 46.93,457.92 47.80,457.62 48.67,457.23 49.53,456.78 50.40,456.30 51.35,455.58 52.30,454.56 53.25,453.36 54.20,452.10 55.18,450.74 56.15,449.22 57.12,447.54 58.10,445.70 58.98,443.83 59.86,441.75 60.74,439.49 61.62,437.13 62.50,434.70 63.45,431.98 64.40,429.11 65.35,426.12 66.30,423.05 67.25,419.93 68.20,416.80 69.07,414.07 69.93,411.48 70.80,408.83 71.67,405.96 72.53,402.68 73.40,398.80 74.35,392.80 75.30,384.98 76.25,376.70 77.20,369.30 78.13,363.43 79.07,357.97 80.00,352.00 80.94,344.97 81.88,337.24 82.82,329.12 83.76,320.87 84.70,312.80 85.65,304.64 86.60,296.33 87.55,288.23 88.50,280.70 92.00,257.00 97.20,216.50 101.70,185.70 106.00,167.30 109.50,154.80 112.90,150.80 117.00,150.80 120.40,154.80 123.20,167.30 128.00,183.10 131.90,202.40 139.70,257.00 143.70,287.10 150.00,338.40 150.40,350.00 151.30,363.11 152.20,372.58 153.10,379.98 154.00,386.89 154.90,394.90 155.88,405.24 156.86,416.05 157.84,426.70 158.82,436.56 159.80,445.00 160.72,451.50 161.63,457.17 162.55,462.36 163.47,467.42 164.38,472.68 165.30,478.50 166.21,485.13 167.12,492.44 168.04,500.16 168.95,508.01 169.86,515.70 170.78,522.95 171.69,529.48 172.60,535.00 173.44,539.29 174.28,543.16 175.12,546.69 175.96,549.97 176.80,553.10 177.60,556.06 178.40,558.91 179.20,561.44 180.00,563.40 180.82,564.92 181.65,566.21 182.48,567.29 183.30,568.20 184.23,569.19 185.15,570.12 186.07,570.82 187.00,571.10 187.91,570.92 188.83,570.43 189.74,569.71 190.66,568.82 191.57,567.84 192.49,566.84 193.40,565.90 194.36,564.86 195.32,563.66 196.29,562.36 197.25,561.02 198.21,559.68 199.18,558.41 200.14,557.27 201.10,556.30 202.10,555.45 203.10,554.70 204.10,554.01 205.10,553.40 206.07,552.89 207.05,552.46 208.03,552.02 209.00,551.50 209.91,550.91 210.83,550.23 211.74,549.50 212.66,548.72 213.57,547.93 214.49,547.15 215.40,546.40 216.36,545.62 217.32,544.81 218.29,543.99 219.25,543.17 220.21,542.38 221.18,541.62 222.14,540.93 223.10,540.30 224.06,539.72 225.03,539.15 225.99,538.60 226.95,538.08 227.91,537.60 228.88,537.17 229.84,536.80 230.80,536.50 231.74,536.26 232.67,536.05 233.61,535.86 234.55,535.69 235.48,535.53 236.42,535.38 237.35,535.24 238.29,535.09 239.23,534.94 240.16,534.78 241.10,534.60 242.06,534.40 243.03,534.17 243.99,533.95 244.95,533.71 245.91,533.49 246.88,533.27 247.84,533.07 248.80,532.90 249.76,532.76 250.73,532.64 251.69,532.54 252.65,532.44 253.61,532.34 254.57,532.22 255.54,532.08 256.50,531.90 257.46,531.66 258.43,531.33 259.39,530.92 260.35,530.43 261.31,529.87 262.27,529.25 263.24,528.55 264.20,527.80 265.11,526.84 266.03,525.51 266.94,523.94 267.86,522.24 268.77,520.52 269.69,518.90 270.60,517.50 271.59,516.14 272.58,514.80 273.57,513.48 274.56,512.20 275.55,510.95 276.55,509.75 277.54,508.60 278.53,507.52 279.52,506.50 280.51,505.56 281.50,504.70 282.43,503.96 283.37,503.28 284.30,502.64 285.23,502.04 286.17,501.47 287.10,500.91 288.03,500.37 288.97,499.84 289.90,499.30 290.77,498.74 291.63,498.13 292.50,497.52 293.37,497.00 294.23,496.64 295.10,496.50 295.97,496.50 296.83,496.50 297.70,496.50 298.57,496.50 299.43,496.50 300.30,496.50 301.23,496.55 302.15,496.71 303.08,496.94 304.01,497.25 304.94,497.62 305.86,498.03 306.79,498.47 307.72,498.94 308.65,499.40 309.57,499.86 310.50,500.30 311.50,500.80 312.50,501.37 313.50,501.99 314.50,502.64 315.50,503.30 316.50,503.93 317.50,504.53 318.50,505.06 319.50,505.50 320.46,505.89 321.43,506.28 322.39,506.67 323.35,507.03 324.31,507.34 325.27,507.58 326.24,507.74 327.20,507.80 328.16,507.80 329.12,507.80 330.09,507.80 331.05,507.80 332.01,507.80 332.97,507.80 333.94,507.80 334.90,507.80 335.90,507.76 336.90,507.66 337.90,507.50 338.90,507.30 339.90,507.07 340.90,506.83 341.90,506.57 342.90,506.33 343.90,506.10 344.86,505.89 345.82,505.66 346.79,505.42 347.75,505.18 348.71,504.93 349.68,504.69 350.64,504.44 351.60,504.20 352.56,503.95 353.53,503.68 354.49,503.39 355.45,503.12 356.41,502.86 357.38,502.63 358.34,502.44 359.30,502.30 360.24,502.20 361.17,502.10 362.11,502.01 363.05,501.92 363.98,501.84 364.92,501.78 365.85,501.72 366.79,501.67 367.73,501.63 368.66,501.61 369.60,501.60 370.54,501.60 371.47,501.60 372.41,501.60 373.35,501.60 374.28,501.60 375.22,501.60 376.15,501.60 377.09,501.60 378.03,501.60 378.96,501.60 379.90,501.60 380.75,501.58 381.60,501.54 382.45,501.47 383.30,501.39 384.15,501.30 385.00,501.20 385.98,501.06 386.97,500.87 387.95,500.64 388.94,500.37 389.92,500.07 390.91,499.75 391.89,499.41 392.88,499.06 393.86,498.70 394.85,498.36 395.83,498.02 396.82,497.70 397.80,497.40 398.79,497.11 399.78,496.83 400.78,496.54 401.77,496.25 402.76,495.96 403.75,495.67 404.75,495.39 405.74,495.11 406.73,494.84 407.72,494.57 408.72,494.30 409.71,494.05 410.70,493.80 411.68,493.56 412.67,493.34 413.65,493.12 414.64,492.91 415.62,492.70 416.61,492.50 417.59,492.30 418.58,492.09 419.56,491.89 420.55,491.68 421.53,491.46 422.52,491.24 423.50,491.00 424.47,490.77 425.43,490.54 426.40,490.31 427.37,490.08 428.33,489.85 429.30,489.60 430.27,489.35 431.23,489.08 432.20,488.79 433.17,488.49 434.13,488.16 435.10,487.80 436.06,487.37 437.03,486.85 437.99,486.26 438.95,485.63 439.91,484.99 440.88,484.37 441.84,483.80 442.80,483.30 443.76,482.85 444.73,482.40 445.69,481.97 446.65,481.56 447.61,481.17 448.57,480.83 449.54,480.54 450.50,480.30 451.50,480.09 452.50,479.88 453.50,479.68 454.50,479.49 455.50,479.33 456.50,479.19 457.50,479.09 458.50,479.02 459.50,479.00 460.43,479.03 461.35,479.12 462.28,479.25 463.21,479.43 464.14,479.65 465.06,479.89 465.99,480.16 466.92,480.44 467.85,480.73 468.77,481.02 469.70,481.30 470.66,481.62 471.62,482.00 472.59,482.43 473.55,482.88 474.51,483.33 475.47,483.79 476.44,484.21 477.40,484.60 478.27,484.91 479.13,485.20 480.00,485.50 480.96,485.87 481.93,486.27 482.89,486.68 483.85,487.10 484.81,487.52 485.77,487.93 486.74,488.33 487.70,488.70 488.64,489.05 489.57,489.39 490.51,489.74 491.45,490.08 492.38,490.41 493.32,490.73 494.25,491.04 495.19,491.33 496.13,491.61 497.06,491.86 498.00,492.10 499.00,492.35 500.00,492.60 501.00,492.86 502.00,493.10 503.00,493.33 504.00,493.52 505.00,493.67 506.00,493.77 507.00,493.80 507.96,493.79 508.92,493.74 509.88,493.68 510.83,493.59 511.79,493.49 512.75,493.37 513.71,493.24 514.67,493.10 515.62,492.95 516.58,492.80 517.54,492.65 518.50,492.50 519.48,492.33 520.47,492.14 521.45,491.93 522.44,491.69 523.42,491.44 524.41,491.18 525.39,490.91 526.38,490.63 527.36,490.36 528.35,490.08 529.33,489.81 530.32,489.55 531.30,489.30 532.24,489.06 533.17,488.80 534.11,488.54 535.05,488.27 535.98,488.00 536.92,487.74 537.85,487.50 538.79,487.28 539.73,487.08 540.66,486.92 541.60,486.80 542.54,486.70 543.47,486.61 544.41,486.51 545.35,486.43 546.28,486.35 547.22,486.28 548.15,486.22 549.09,486.17 550.03,486.13 550.96,486.11 551.90,486.10 552.84,486.11 553.77,486.13 554.71,486.17 555.65,486.22 556.58,486.27 557.52,486.33 558.45,486.38 559.39,486.43 560.33,486.47 561.26,486.49 562.20,486.50 563.13,486.46 564.05,486.36 564.98,486.20 565.91,485.99 566.84,485.75 567.76,485.48 568.69,485.20 569.62,484.93 570.55,484.66 571.47,484.41 572.40,484.20 573.34,484.02 574.27,483.85 575.21,483.70 576.15,483.56 577.08,483.41 578.02,483.26 578.95,483.10 579.89,482.92 580.83,482.71 581.76,482.48 582.70,482.20 583.66,481.80 584.62,481.23 585.59,480.54 586.55,479.75 587.51,478.90 588.48,478.04 589.44,477.19 590.40,476.40 591.34,475.66 592.27,474.91 593.21,474.16 594.15,473.40 595.08,472.63 596.02,471.86 596.95,471.08 597.89,470.31 598.83,469.54 599.76,468.77 600.70,468.00 601.63,467.23 602.55,466.45 603.48,465.65 604.41,464.85 605.34,464.06 606.26,463.27 607.19,462.50 608.12,461.75 609.05,461.03 609.97,460.34 610.90,459.70 611.84,459.08 612.77,458.48 613.71,457.90 614.65,457.33 615.58,456.78 616.52,456.25 617.45,455.74 618.39,455.25 619.33,454.78 620.26,454.33 621.20,453.90 622.14,453.49 623.07,453.09 624.01,452.71 624.95,452.34 625.88,451.99 626.82,451.64 627.75,451.31 628.69,450.99 629.63,450.68 630.56,450.39 631.50,450.10 632.44,449.82 633.37,449.53 634.31,449.24 635.25,448.96 636.18,448.69 637.12,448.44 638.05,448.20 638.99,447.98 639.93,447.79 640.86,447.63 641.80,447.50 642.76,447.39 643.72,447.28 644.69,447.18 645.65,447.09 646.61,447.01 647.58,446.95 648.54,446.91 649.50,446.90 650.46,446.96 651.42,447.14 652.39,447.41 653.35,447.75 654.31,448.14 655.28,448.56 656.24,448.98 657.20,449.40 658.16,449.88 659.12,450.48 660.09,451.15 661.05,451.85 662.01,452.52 662.98,453.12 663.94,453.59 664.90,453.90 665.75,454.05 666.60,454.16 667.45,454.25 668.30,454.34 669.15,454.45 670.00,454.60 670.91,454.89 671.83,455.34 672.74,455.89 673.66,456.47 674.57,457.02 675.49,457.49 676.40,457.80 677.34,458.02 678.27,458.23 679.21,458.42 680.15,458.61 681.08,458.78 682.02,458.93 682.95,459.05 683.89,459.16 684.83,459.23 685.76,459.28 686.70,459.30 687.70,459.28 688.70,459.23 689.70,459.16 690.70,459.06 691.70,458.94 692.70,458.82 693.70,458.68 694.70,458.54 695.70,458.40 696.66,458.26 697.62,458.11 698.58,457.93 699.53,457.75 700.49,457.55 701.45,457.33 702.41,457.11 703.37,456.87 704.33,456.62 705.28,456.36 706.24,456.08 707.20,455.80 708.14,455.50 709.07,455.17 710.01,454.81 710.95,454.42 711.88,454.01 712.82,453.59 713.75,453.14 714.69,452.69 715.63,452.23 716.56,451.76 717.50,451.30 718.50,450.80 719.50,450.29 720.50,449.77 721.50,449.23 722.50,448.67 723.50,448.10 724.50,447.49 725.50,446.86 726.50,446.20 727.46,445.51 728.42,444.75 729.39,443.95 730.35,443.11 731.31,442.26 732.28,441.41 733.24,440.59 734.20,439.80 735.16,439.03 736.12,438.25 737.09,437.48 738.05,436.71 739.01,435.97 739.98,435.27 740.94,434.61 741.90,434.00 742.86,433.42 743.83,432.83 744.79,432.25 745.75,431.71 746.71,431.21 747.67,430.78 748.64,430.44 749.60,430.20 750.56,430.02 751.52,429.85 752.49,429.70 753.45,429.57 754.41,429.46 755.38,429.37 756.34,429.32 757.30,429.30 758.26,429.33 759.22,429.42 760.19,429.55 761.15,429.72 762.11,429.90 763.08,430.11 764.04,430.31 765.00,430.50 765.96,430.69 766.92,430.89 767.89,431.11 768.85,431.34 769.81,431.58 770.78,431.84 771.74,432.11 772.70,432.40 773.70,432.74 774.70,433.12 775.70,433.54 776.70,433.99 777.70,434.44 778.70,434.91 779.70,435.36 780.70,435.80 781.70,436.20 782.70,436.59 783.70,436.98 784.70,437.37 785.70,437.75 786.70,438.12 787.70,438.47 788.70,438.81 789.70,439.12 790.70,439.40 791.70,439.67 792.70,439.96 793.70,440.25 794.70,440.52 795.70,440.77 796.70,440.98 797.70,441.15 798.70,441.26 799.70,441.30 800.63,441.30 801.55,441.30 802.48,441.30 803.41,441.30 804.34,441.30 805.26,441.30 806.19,441.30 807.12,441.30 808.05,441.30 808.97,441.30 809.90,441.30 810.84,441.30 811.77,441.29 812.71,441.28 813.65,441.27 814.58,441.25 815.52,441.23 816.45,441.21 817.39,441.19 818.33,441.16 819.26,441.13 820.20,441.10 821.17,441.04 822.13,440.95 823.10,440.82 824.07,440.65 825.03,440.46 826.00,440.25 826.97,440.03 827.93,439.79 828.90,439.54 829.87,439.29 830.83,439.04 831.80,438.80 832.73,438.56 833.65,438.30 834.58,438.01 835.51,437.71 836.44,437.40 837.36,437.09 838.29,436.77 839.22,436.46 840.15,436.16 841.07,435.87 842.00,435.60 842.94,435.34 843.87,435.07 844.81,434.81 845.75,434.55 846.68,434.30 847.62,434.05 848.55,433.81 849.49,433.59 850.43,433.37 851.36,433.18 852.30,433.00 853.26,432.82 854.22,432.63 855.19,432.45 856.15,432.28 857.11,432.13 858.08,432.01 859.04,431.93 860.00,431.90 860.91,431.92 861.83,431.98 862.74,432.07 863.66,432.18 864.57,432.31 865.49,432.45 866.40,432.60 867.31,432.78 868.23,433.03 869.14,433.32 870.06,433.64 870.97,433.97 871.89,434.30 872.80,434.60 873.80,434.94 874.80,435.33 875.80,435.74 876.80,436.15 877.80,436.54 878.80,436.88 879.80,437.15 880.80,437.33 881.80,437.40 882.71,437.37 883.63,437.30 884.54,437.19 885.46,437.05 886.37,436.88 887.29,436.69 888.20,436.50 889.14,436.24 890.07,435.89 891.01,435.45 891.95,434.94 892.88,434.38 893.82,433.78 894.75,433.15 895.69,432.52 896.63,431.89 897.56,431.28 898.50,430.70 899.44,430.13 900.37,429.54 901.31,428.93 902.25,428.31 903.18,427.68 904.12,427.06 905.05,426.46 905.99,425.87 906.93,425.31 907.86,424.78 908.80,424.30 909.74,423.85 910.67,423.41 911.61,422.99 912.55,422.58 913.48,422.19 914.42,421.81 915.35,421.44 916.29,421.09 917.23,420.75 918.16,420.42 919.10,420.10 920.03,419.79 920.95,419.50 921.88,419.22 922.81,418.94 923.74,418.67 924.66,418.41 925.59,418.16 926.52,417.91 927.45,417.67 928.37,417.43 929.30,417.20 930.24,416.97 931.17,416.75 932.11,416.54 933.05,416.33 933.98,416.13 934.92,415.93 935.85,415.73 936.79,415.53 937.73,415.33 938.66,415.12 939.60,414.90 940.57,414.65 941.55,414.36 942.52,414.04 943.49,413.72 944.46,413.39 945.44,413.08 946.41,412.80 947.38,412.56 948.35,412.37 949.33,412.24 950.30,412.20 951.26,412.20 952.22,412.20 953.19,412.20 954.15,412.20 955.11,412.20 956.08,412.20 957.04,412.20 958.00,412.20 959.00,412.22 960.00,412.27 961.00,412.36 962.00,412.48 963.00,412.63 964.00,412.81 965.00,413.02 966.00,413.25 967.00,413.50 967.96,414.09 968.92,415.32 969.88,417.09 970.83,419.33 971.79,421.97 972.75,424.92 973.71,428.11 974.67,431.47 975.62,434.90 976.58,438.33 977.54,441.69 978.50,444.90 979.35,447.89 980.20,451.22 981.05,454.71 981.90,458.16 982.75,461.39 983.60,464.20 984.47,466.59 985.33,468.68 986.20,470.61 987.07,472.55 987.93,474.63 988.80,477.00 989.67,479.93 990.54,483.38 991.41,487.13 992.29,490.91 993.16,494.49 994.03,497.64 994.90,500.10 995.90,502.39 996.90,504.57 997.90,506.61 998.90,508.50 999.90,510.21 1000.90,511.71 1001.90,512.99 1002.90,514.03 1003.90,514.80 1004.90,515.42 1005.90,516.00 1006.90,516.55 1007.90,517.04 1008.90,517.46 1009.90,517.81 1010.90,518.08 1011.90,518.24 1012.90,518.30 1013.90,518.18 1014.90,517.86 1015.90,517.37 1016.90,516.75 1017.90,516.03 1018.90,515.24 1019.90,514.44 1020.90,513.64 1021.90,512.90 1022.84,512.21 1023.77,511.46 1024.71,510.66 1025.65,509.84 1026.58,508.98 1027.52,508.12 1028.45,507.24 1029.39,506.38 1030.33,505.52 1031.26,504.69 1032.20,503.90 1033.19,503.09 1034.18,502.29 1035.17,501.49 1036.16,500.71 1037.14,499.94 1038.13,499.17 1039.12,498.41 1040.11,497.65 1041.10,496.90 1042.02,496.21 1042.94,495.52 1043.86,494.84 1044.78,494.16 1045.70,493.49 1046.62,492.83 1047.54,492.16 1048.46,491.51 1049.38,490.85 1050.30,490.20 1051.23,489.54 1052.15,488.89 1053.08,488.24 1054.01,487.59 1054.94,486.95 1055.86,486.30 1056.79,485.67 1057.72,485.04 1058.65,484.42 1059.57,483.81 1060.50,483.20 1061.47,482.57 1062.43,481.93 1063.40,481.28 1064.37,480.64 1065.33,480.00 1066.30,479.37 1067.27,478.76 1068.23,478.17 1069.20,477.60 1070.17,477.07 1071.13,476.56 1072.10,476.10 1073.04,475.68 1073.97,475.29 1074.91,474.91 1075.85,474.54 1076.78,474.20 1077.72,473.86 1078.65,473.54 1079.59,473.22 1080.53,472.91 1081.46,472.60 1082.40,472.30 1083.39,471.98 1084.38,471.67 1085.37,471.36 1086.36,471.05 1087.34,470.76 1088.33,470.48 1089.32,470.21 1090.31,469.95 1091.30,469.70 1092.29,469.45 1093.28,469.19 1094.28,468.92 1095.27,468.65 1096.26,468.39 1097.25,468.13 1098.25,467.89 1099.24,467.67 1100.23,467.48 1101.22,467.32 1102.22,467.20 1103.21,467.13 1104.20,467.10 1105.16,467.17 1106.12,467.36 1107.09,467.65 1108.05,468.02 1109.01,468.43 1109.98,468.86 1110.94,469.30 1111.90,469.70 1112.84,470.09 1113.77,470.49 1114.71,470.92 1115.65,471.37 1116.58,471.83 1117.52,472.31 1118.45,472.80 1119.39,473.29 1120.33,473.79 1121.26,474.30 1122.20,474.80 1123.19,475.36 1124.18,475.97 1125.17,476.60 1126.16,477.24 1127.14,477.88 1128.13,478.49 1129.12,479.06 1130.11,479.57 1131.10,480.00 1132.08,480.35 1133.06,480.66 1134.04,480.95 1135.02,481.22 1136.00,481.50 1136.96,481.79 1137.91,482.10 1138.87,482.40 1139.83,482.70 1140.79,482.97 1141.74,483.21 1142.70,483.40 1143.70,483.58 1144.70,483.75 1145.70,483.92 1146.70,484.07 1147.70,484.21 1148.70,484.33 1149.70,484.42 1150.70,484.48 1151.70,484.50 1152.70,484.49 1153.70,484.46 1154.70,484.42 1155.70,484.37 1156.70,484.33 1157.70,484.28 1158.70,484.24 1159.70,484.21 1160.70,484.20 1161.66,484.22 1162.62,484.28 1163.59,484.37 1164.55,484.48 1165.51,484.62 1166.48,484.77 1167.44,484.93 1168.40,485.10 1169.40,485.31 1170.40,485.57 1171.40,485.89 1172.40,486.24 1173.40,486.63 1174.40,487.03 1175.40,487.46 1176.40,487.88 1177.40,488.30 1178.36,488.72 1179.32,489.18 1180.28,489.67 1181.23,490.18 1182.19,490.71 1183.15,491.25 1184.11,491.78 1185.07,492.30 1186.03,492.80 1186.98,493.27 1187.94,493.71 1188.90,494.10 1189.84,494.47 1190.77,494.86 1191.71,495.25 1192.65,495.64 1193.58,496.02 1194.52,496.36 1195.45,496.67 1196.39,496.93 1197.33,497.13 1198.26,497.26 1199.20,497.30 1200.16,497.30 1201.12,497.30 1202.09,497.30 1203.05,497.30 1204.01,497.30 1204.98,497.30 1205.94,497.30 1206.90,497.30 1207.84,497.26 1208.77,497.13 1209.71,496.93 1210.65,496.67 1211.58,496.36 1212.52,496.02 1213.45,495.64 1214.39,495.25 1215.33,494.86 1216.26,494.47 1217.20,494.10 1218.13,493.72 1219.05,493.30 1219.98,492.85 1220.91,492.38 1221.84,491.88 1222.76,491.38 1223.69,490.88 1224.62,490.38 1225.55,489.90 1226.47,489.43 1227.40,489.00 1228.34,488.59 1229.27,488.19 1230.21,487.80 1231.15,487.42 1232.08,487.05 1233.02,486.68 1233.95,486.31 1234.89,485.94 1235.83,485.57 1236.76,485.19 1237.70,484.80 1238.64,484.40 1239.57,483.99 1240.51,483.58 1241.45,483.16 1242.38,482.74 1243.32,482.31 1244.25,481.90 1245.19,481.48 1246.13,481.08 1247.06,480.68 1248.00,480.30 1248.93,479.93 1249.85,479.58 1250.78,479.23 1251.71,478.89 1252.64,478.55 1253.56,478.21 1254.49,477.88 1255.42,477.54 1256.35,477.20 1257.27,476.85 1258.20,476.50 1259.13,476.09 1260.06,475.62 1260.99,475.12 1261.91,474.66 1262.84,474.27 1263.77,474.00 1264.70,473.90 1265.61,473.98 1266.53,474.21 1267.44,474.55 1268.36,474.97 1269.27,475.46 1270.19,475.98 1271.10,476.50 1272.03,477.08 1272.95,477.78 1273.88,478.58 1274.81,479.46 1275.74,480.42 1276.66,481.43 1277.59,482.48 1278.52,483.56 1279.45,484.65 1280.37,485.73 1281.30,486.80 1282.30,487.98 1283.30,489.23 1284.30,490.54 1285.30,491.88 1286.30,493.24 1287.30,494.59 1288.30,495.91 1289.30,497.19 1290.30,498.40 1291.23,499.49 1292.15,500.59 1293.08,501.69 1294.01,502.78 1294.94,503.85 1295.86,504.88 1296.79,505.88 1297.72,506.83 1298.65,507.72 1299.57,508.55 1300.50,509.30 1301.50,510.05 1302.50,510.78 1303.50,511.48 1304.50,512.14 1305.50,512.76 1306.50,513.33 1307.50,513.85 1308.50,514.31 1309.50,514.70 1310.50,515.06 1311.50,515.41 1312.50,515.74 1313.50,516.05 1314.50,516.33 1315.50,516.57 1316.50,516.77 1317.50,516.91 1318.50,517.00 1319.44,517.04 1320.37,517.08 1321.31,517.11 1322.25,517.13 1323.18,517.15 1324.12,517.17 1325.05,517.19 1325.99,517.21 1326.93,517.23 1327.86,517.26 1328.80,517.30 1329.76,517.35 1330.72,517.41 1331.67,517.47 1332.63,517.55 1333.59,517.64 1334.55,517.74 1335.51,517.85 1336.47,517.98 1337.42,518.11 1338.38,518.26 1339.34,518.42 1340.30,518.60 1341.30,518.87 1342.30,519.29 1343.30,519.81 1344.30,520.41 1345.30,521.05 1346.30,521.70 1347.30,522.33 1348.30,522.91 1349.30,523.40 1350.30,523.84 1351.30,524.30 1352.30,524.75 1353.30,525.19 1354.30,525.60 1355.30,525.97 1356.30,526.28 1357.30,526.53 1358.30,526.70 1359.26,526.82 1360.22,526.93 1361.19,527.03 1362.15,527.12 1363.11,527.20 1364.08,527.25 1365.04,527.29 1366.00,527.30 1366.96,527.25 1367.92,527.12 1368.89,526.92 1369.85,526.66 1370.81,526.36 1371.78,526.05 1372.74,525.72 1373.70,525.40 1374.63,525.08 1375.56,524.73 1376.49,524.35 1377.42,523.94 1378.35,523.50 1379.28,523.04 1380.22,522.56 1381.15,522.06 1382.08,521.55 1383.01,521.02 1383.94,520.49 1384.87,519.95 1385.80,519.40 1386.78,518.80 1387.76,518.17 1388.75,517.50 1389.73,516.81 1390.71,516.09 1391.69,515.36 1392.67,514.63 1393.65,513.89 1394.64,513.15 1395.62,512.42 1396.60,511.70 1397.57,511.00 1398.55,510.29 1399.52,509.59 1400.49,508.88 1401.46,508.17 1402.44,507.46 1403.41,506.75 1404.38,506.04 1405.35,505.33 1406.33,504.62 1407.30,503.90 1408.23,503.21 1409.16,502.52 1410.09,501.83 1411.02,501.14 1411.95,500.44 1412.88,499.75 1413.81,499.05 1414.74,498.36 1415.67,497.68 1416.60,497.00 1417.58,496.29 1418.56,495.57 1419.55,494.86 1420.53,494.15 1421.51,493.45 1422.49,492.74 1423.47,492.04 1424.45,491.35 1425.44,490.66 1426.42,489.98 1427.40,489.30 1428.32,488.67 1429.24,488.05 1430.16,487.43 1431.08,486.82 1432.00,486.21 1432.92,485.61 1433.84,485.01 1434.76,484.40 1435.68,483.80 1436.60,483.20 1437.58,482.55 1438.56,481.89 1439.55,481.23 1440.53,480.57 1441.51,479.91 1442.49,479.25 1443.47,478.61 1444.45,477.97 1445.44,477.36 1446.42,476.77 1447.40,476.20 1448.38,475.65 1449.36,475.12 1450.35,474.61 1451.33,474.10 1452.31,473.61 1453.29,473.13 1454.27,472.65 1455.25,472.19 1456.24,471.72 1457.22,471.26 1458.20,470.80 1459.15,470.36 1460.09,469.92 1461.04,469.48 1461.98,469.05 1462.93,468.62 1463.88,468.19 1464.82,467.77 1465.77,467.36 1466.72,466.95 1467.66,466.55 1468.61,466.16 1469.55,465.77 1470.50,465.40 1471.48,465.01 1472.46,464.62 1473.45,464.23 1474.43,463.84 1475.41,463.46 1476.39,463.09 1477.37,462.74 1478.35,462.41 1479.34,462.11 1480.32,461.84 1481.30,461.60 1482.22,461.41 1483.14,461.23 1484.06,461.07 1484.98,460.92 1485.90,460.78 1486.82,460.65 1487.74,460.52 1488.66,460.38 1489.58,460.25 1490.50,460.10" fill="none" stroke="#ff6d00" stroke-width="1.4" stroke-linejoin="round"/>
<polyline points="11.90,452.40 12.78,452.72 13.66,453.04 14.54,453.36 15.42,453.68 16.30,454.00 17.20,454.33 18.10,454.67 19.00,455.00 19.90,455.32 20.80,455.60 21.73,455.89 22.66,456.20 23.59,456.50 24.51,456.77 25.44,456.99 26.37,457.14 27.30,457.20 28.13,457.20 28.97,457.20 29.80,457.20 30.57,456.97 31.33,456.53 32.10,456.30 33.07,456.71 34.03,457.60 35.00,458.50 35.95,459.32 36.90,460.20 37.85,460.95 38.80,461.40 39.64,461.59 40.48,461.76 41.32,461.89 42.16,461.97 43.00,462.00 43.88,461.64 44.75,460.73 45.62,459.50 46.50,458.20 47.30,456.88 48.10,455.27 48.90,453.45 49.70,451.50 50.57,449.23 51.43,446.65 52.30,443.70 53.20,439.80 54.10,435.27 55.00,431.00 55.93,427.22 56.87,423.66 57.80,420.00 58.74,416.11 59.69,412.17 60.63,408.16 61.57,404.08 62.51,399.91 63.46,395.66 64.40,391.30 65.22,387.54 66.04,383.79 66.86,379.88 67.68,375.61 68.50,370.80 69.42,364.38 70.35,356.91 71.28,348.68 72.20,340.00 73.15,330.45 74.10,319.50 75.05,305.79 76.00,291.30 76.95,277.49 77.90,265.60 78.73,258.12 79.55,251.86 80.38,246.07 81.20,240.00 82.03,233.65 82.87,227.27 83.70,220.30 84.53,212.52 85.35,204.05 86.17,195.05 87.00,185.70 87.95,173.55 88.90,162.00 91.05,143.50 98.20,103.50 102.00,95.30 106.10,98.90 109.00,107.60 112.10,121.00 115.20,134.30 117.80,150.70 119.00,162.00 121.00,183.10 124.20,215.20 129.00,257.00 132.20,284.50 135.40,316.60 139.20,352.00 142.70,388.50 146.60,445.00 154.30,535.00 155.25,546.47 156.20,555.70 157.17,560.85 158.15,564.51 159.12,567.94 160.10,572.40 161.05,578.98 162.00,587.15 162.95,595.32 163.90,601.90 164.88,607.54 165.85,612.94 166.83,617.00 167.80,618.60 168.70,618.40 169.60,617.95 170.50,617.50 171.40,617.30 172.26,618.43 173.12,621.14 173.98,624.36 174.84,627.07 175.70,628.20 176.59,626.96 177.47,623.64 178.36,618.84 179.24,613.15 180.13,607.19 181.01,601.54 181.90,596.80 182.81,592.66 183.73,588.65 184.64,584.74 185.56,580.93 186.47,577.18 187.39,573.48 188.30,569.80 189.20,566.08 190.10,562.27 191.00,558.60 191.90,555.27 192.80,552.50 193.72,549.98 194.64,547.45 195.57,544.97 196.49,542.64 197.41,540.55 198.33,538.77 199.26,537.40 200.18,536.51 201.10,536.20 202.07,537.08 203.05,539.16 204.03,541.59 205.00,543.50 205.93,544.89 206.85,546.25 207.77,547.29 208.70,547.70 209.66,547.22 210.61,545.93 211.57,544.09 212.53,541.95 213.49,539.73 214.44,537.70 215.40,536.10 216.36,534.72 217.32,533.28 218.29,531.84 219.25,530.49 220.21,529.30 221.18,528.35 222.14,527.73 223.10,527.50 224.07,527.91 225.05,528.80 226.03,529.69 227.00,530.10 227.90,529.94 228.80,529.60 229.70,529.26 230.60,529.10 231.55,529.65 232.50,530.85 233.45,532.05 234.40,532.60 235.36,532.60 236.31,532.60 237.27,532.60 238.23,532.60 239.19,532.60 240.14,532.60 241.10,532.60 242.05,532.15 243.00,531.15 243.95,530.15 244.90,529.70 245.88,529.90 246.85,530.35 247.83,530.80 248.80,531.00 249.80,531.00 250.80,531.00 251.80,531.00 252.80,531.00 253.80,531.00 254.80,531.00 255.80,531.00 256.62,530.57 257.45,529.49 258.28,528.03 259.10,526.50 259.95,524.72 260.80,522.52 261.65,520.04 262.50,517.43 263.35,514.83 264.20,512.40 265.11,509.71 266.03,506.74 266.94,503.71 267.86,500.84 268.77,498.35 269.69,496.46 270.60,495.40 271.51,494.90 272.43,494.52 273.34,494.23 274.26,493.98 275.17,493.74 276.09,493.46 277.00,493.10 277.90,492.57 278.80,491.89 279.70,491.22 280.60,490.71 281.50,490.50 282.39,490.50 283.27,490.50 284.16,490.50 285.05,490.50 285.94,490.50 286.83,490.50 287.71,490.50 288.60,490.50 289.55,490.31 290.50,489.90 291.45,489.49 292.40,489.30 293.38,489.54 294.35,490.14 295.32,490.95 296.30,491.80 297.23,492.71 298.16,493.85 299.09,495.13 300.01,496.49 300.94,497.86 301.87,499.15 302.80,500.30 303.73,501.33 304.66,502.33 305.59,503.28 306.51,504.21 307.44,505.10 308.37,505.96 309.30,506.80 310.29,507.73 311.28,508.74 312.27,509.78 313.26,510.80 314.24,511.75 315.23,512.57 316.22,513.22 317.21,513.65 318.20,513.80 319.18,513.75 320.15,513.61 321.12,513.42 322.10,513.20 323.01,512.87 323.93,512.34 324.84,511.69 325.76,511.00 326.67,510.32 327.59,509.73 328.50,509.30 329.46,508.99 330.43,508.74 331.39,508.53 332.35,508.34 333.31,508.15 334.27,507.94 335.24,507.70 336.20,507.40 337.16,506.99 338.12,506.44 339.09,505.82 340.05,505.15 341.01,504.47 341.97,503.85 342.94,503.31 343.90,502.90 344.88,502.62 345.85,502.41 346.82,502.19 347.80,501.90 348.75,501.42 349.70,500.78 350.65,500.15 351.60,499.70 352.51,499.42 353.43,499.15 354.34,498.91 355.26,498.70 356.17,498.54 357.09,498.44 358.00,498.40 358.90,498.58 359.80,499.02 360.70,499.56 361.60,500.04 362.50,500.30 363.40,500.38 364.30,500.43 365.20,500.47 366.10,500.52 367.00,500.60 367.87,500.89 368.73,501.34 369.60,501.60 370.54,501.66 371.47,501.71 372.41,501.75 373.35,501.79 374.28,501.82 375.22,501.85 376.15,501.87 377.09,501.88 378.03,501.89 378.96,501.90 379.90,501.90 380.85,501.56 381.80,500.74 382.75,499.78 383.70,499.00 384.60,498.46 385.50,497.95 386.40,497.47 387.30,497.02 388.20,496.59 389.10,496.19 390.00,495.80 390.90,495.43 391.80,495.09 392.70,494.80 393.70,494.54 394.70,494.31 395.70,494.11 396.70,493.92 397.70,493.74 398.70,493.56 399.70,493.36 400.70,493.15 401.70,492.90 402.70,492.59 403.70,492.21 404.70,491.79 405.70,491.34 406.70,490.90 407.70,490.49 408.70,490.14 409.70,489.86 410.70,489.70 411.61,489.62 412.53,489.56 413.44,489.51 414.36,489.46 415.27,489.42 416.19,489.36 417.10,489.30 418.06,489.22 419.03,489.14 419.99,489.05 420.95,488.95 421.91,488.84 422.88,488.71 423.84,488.57 424.80,488.40 425.74,488.20 426.67,487.95 427.61,487.65 428.55,487.29 429.48,486.88 430.42,486.42 431.35,485.90 432.29,485.33 433.23,484.71 434.16,484.03 435.10,483.30 436.05,482.04 437.00,480.23 437.95,478.51 438.90,477.50 439.86,477.08 440.82,476.70 441.79,476.38 442.75,476.10 443.71,475.89 444.68,475.73 445.64,475.63 446.60,475.60 447.54,475.61 448.47,475.63 449.41,475.67 450.35,475.73 451.28,475.80 452.22,475.88 453.15,475.98 454.09,476.09 455.03,476.21 455.96,476.35 456.90,476.50 457.86,476.85 458.82,477.51 459.79,478.41 460.75,479.45 461.71,480.55 462.68,481.61 463.64,482.56 464.60,483.30 465.56,483.86 466.53,484.35 467.49,484.78 468.45,485.19 469.41,485.60 470.38,486.04 471.34,486.53 472.30,487.10 473.15,487.76 474.00,488.57 474.85,489.45 475.70,490.30 476.55,491.05 477.40,491.60 478.32,492.02 479.24,492.36 480.16,492.66 481.08,492.94 482.00,493.20 482.96,493.48 483.92,493.77 484.88,494.05 485.84,494.33 486.80,494.59 487.76,494.83 488.72,495.05 489.68,495.24 490.64,495.39 491.60,495.50 492.59,495.59 493.58,495.67 494.57,495.75 495.56,495.82 496.54,495.88 497.53,495.93 498.52,495.97 499.51,495.99 500.50,496.00 501.37,495.89 502.23,495.61 503.10,495.23 503.97,494.82 504.83,494.45 505.70,494.20 506.66,494.03 507.62,493.90 508.59,493.79 509.55,493.69 510.51,493.59 511.47,493.48 512.44,493.36 513.40,493.20 514.36,493.00 515.32,492.77 516.27,492.50 517.23,492.20 518.19,491.88 519.15,491.54 520.11,491.18 521.07,490.81 522.02,490.43 522.98,490.05 523.94,489.67 524.90,489.30 525.84,488.92 526.77,488.51 527.71,488.08 528.65,487.64 529.58,487.19 530.52,486.73 531.45,486.29 532.39,485.87 533.33,485.48 534.26,485.12 535.20,484.80 536.14,484.50 537.07,484.19 538.01,483.88 538.95,483.58 539.88,483.29 540.82,483.02 541.75,482.78 542.69,482.58 543.63,482.43 544.56,482.33 545.50,482.30 546.40,482.55 547.30,483.16 548.20,483.93 549.10,484.68 550.00,485.20 551.00,485.58 552.00,485.94 553.00,486.28 554.00,486.57 555.00,486.80 556.00,486.95 557.00,487.00 557.87,486.98 558.73,486.93 559.60,486.84 560.47,486.74 561.33,486.62 562.20,486.50 563.13,486.34 564.05,486.13 564.98,485.88 565.91,485.59 566.84,485.26 567.76,484.91 568.69,484.53 569.62,484.13 570.55,483.73 571.47,483.31 572.40,482.90 573.27,482.49 574.13,482.02 575.00,481.50 575.91,480.91 576.83,480.28 577.74,479.60 578.66,478.87 579.57,478.10 580.49,477.28 581.40,476.40 582.36,475.32 583.33,474.05 584.29,472.64 585.25,471.17 586.21,469.72 587.17,468.34 588.14,467.11 589.10,466.10 590.01,465.33 590.93,464.66 591.84,464.06 592.76,463.49 593.67,462.92 594.59,462.30 595.50,461.60 596.46,460.75 597.42,459.82 598.39,458.82 599.35,457.79 600.31,456.75 601.28,455.74 602.24,454.78 603.20,453.90 604.16,453.03 605.12,452.11 606.09,451.19 607.05,450.31 608.01,449.51 608.98,448.85 609.94,448.36 610.90,448.10 611.86,447.97 612.83,447.85 613.79,447.75 614.75,447.66 615.71,447.59 616.67,447.54 617.64,447.51 618.60,447.50 619.47,447.52 620.33,447.58 621.20,447.65 622.07,447.72 622.93,447.78 623.80,447.80 624.76,447.72 625.72,447.51 626.69,447.20 627.65,446.83 628.61,446.45 629.58,446.09 630.54,445.80 631.50,445.60 632.46,445.48 633.42,445.38 634.39,445.29 635.35,445.22 636.31,445.14 637.28,445.07 638.24,444.99 639.20,444.90 640.05,444.79 640.90,444.67 641.75,444.53 642.60,444.42 643.45,444.33 644.30,444.30 645.20,444.35 646.10,444.48 647.00,444.68 647.90,444.92 648.80,445.20 649.77,445.67 650.73,446.40 651.70,447.31 652.67,448.29 653.63,449.25 654.60,450.10 655.45,450.73 656.30,451.30 657.15,451.86 658.00,452.45 658.85,453.12 659.70,453.90 660.68,455.20 661.65,456.86 662.62,458.50 663.60,459.70 664.51,460.50 665.43,461.27 666.34,461.98 667.26,462.59 668.17,463.07 669.09,463.39 670.00,463.50 670.91,463.45 671.83,463.33 672.74,463.15 673.66,462.93 674.57,462.70 675.49,462.49 676.40,462.30 677.36,462.14 678.33,462.00 679.29,461.86 680.25,461.73 681.21,461.58 682.17,461.42 683.14,461.23 684.10,461.00 685.01,460.69 685.93,460.27 686.84,459.77 687.76,459.24 688.67,458.70 689.59,458.21 690.50,457.80 691.44,457.45 692.37,457.13 693.31,456.82 694.25,456.54 695.18,456.27 696.12,456.00 697.05,455.73 697.99,455.47 698.93,455.19 699.86,454.91 700.80,454.60 701.80,454.26 702.80,453.93 703.80,453.59 704.80,453.25 705.80,452.90 706.80,452.53 707.80,452.14 708.80,451.73 709.80,451.30 710.76,450.84 711.72,450.35 712.69,449.81 713.65,449.25 714.61,448.68 715.58,448.09 716.54,447.49 717.50,446.90 718.35,446.41 719.20,445.95 720.05,445.48 720.90,444.96 721.75,444.35 722.60,443.60 723.47,442.45 724.33,440.81 725.20,438.88 726.07,436.87 726.93,434.98 727.80,433.40 728.76,431.84 729.72,430.23 730.69,428.63 731.65,427.13 732.61,425.80 733.58,424.74 734.54,424.01 735.50,423.70 736.46,423.63 737.42,423.57 738.39,423.52 739.35,423.48 740.31,423.44 741.28,423.42 742.24,423.40 743.20,423.40 744.11,423.48 745.03,423.71 745.94,424.05 746.86,424.45 747.77,424.89 748.69,425.31 749.60,425.70 750.56,426.07 751.52,426.44 752.49,426.81 753.45,427.20 754.41,427.59 755.38,428.01 756.34,428.44 757.30,428.90 758.21,429.37 759.13,429.89 760.04,430.43 760.96,431.00 761.87,431.57 762.79,432.14 763.70,432.70 764.58,433.26 765.47,433.86 766.35,434.45 767.23,435.02 768.12,435.51 769.00,435.90 769.92,436.18 770.85,436.40 771.78,436.62 772.70,436.90 773.66,437.35 774.62,437.96 775.59,438.68 776.55,439.46 777.51,440.23 778.48,440.95 779.44,441.55 780.40,442.00 781.36,442.35 782.33,442.69 783.29,443.01 784.25,443.30 785.21,443.54 786.17,443.73 787.14,443.86 788.10,443.90 789.06,443.90 790.02,443.90 790.99,443.90 791.95,443.90 792.91,443.90 793.88,443.90 794.84,443.90 795.80,443.90 796.76,443.84 797.72,443.67 798.69,443.42 799.65,443.13 800.61,442.81 801.58,442.50 802.54,442.22 803.50,442.00 804.50,441.81 805.50,441.61 806.50,441.42 807.50,441.23 808.50,441.06 809.50,440.91 810.50,440.80 811.50,440.73 812.50,440.70 813.46,440.70 814.42,440.70 815.39,440.70 816.35,440.70 817.31,440.70 818.28,440.70 819.24,440.70 820.20,440.70 821.14,440.66 822.07,440.53 823.01,440.33 823.95,440.08 824.88,439.77 825.82,439.43 826.75,439.05 827.69,438.66 828.63,438.27 829.56,437.88 830.50,437.50 831.46,437.10 832.42,436.65 833.39,436.16 834.35,435.66 835.31,435.13 836.28,434.61 837.24,434.09 838.20,433.60 839.16,433.07 840.12,432.46 841.09,431.83 842.05,431.22 843.01,430.66 843.98,430.21 844.94,429.91 845.90,429.80 846.81,429.86 847.73,430.00 848.64,430.19 849.56,430.41 850.47,430.60 851.39,430.74 852.30,430.80 853.15,430.70 854.00,430.46 854.85,430.15 855.70,429.84 856.55,429.60 857.40,429.50 858.35,429.52 859.30,429.59 860.25,429.69 861.20,429.84 862.15,430.01 863.10,430.22 864.05,430.45 865.00,430.70 865.88,431.10 866.77,431.74 867.65,432.56 868.53,433.46 869.42,434.37 870.30,435.20 871.22,436.09 872.14,437.10 873.07,438.19 873.99,439.27 874.91,440.30 875.83,441.22 876.76,441.94 877.68,442.43 878.60,442.60 879.57,442.42 880.53,441.93 881.50,441.20 882.47,440.32 883.43,439.36 884.40,438.40 885.31,437.34 886.23,436.00 887.14,434.49 888.06,432.92 888.97,431.37 889.89,429.97 890.80,428.80 891.74,427.78 892.67,426.78 893.61,425.81 894.55,424.88 895.48,424.00 896.42,423.17 897.35,422.40 898.29,421.70 899.23,421.08 900.16,420.55 901.10,420.10 902.03,419.72 902.95,419.38 903.88,419.07 904.81,418.78 905.74,418.52 906.66,418.27 907.59,418.04 908.52,417.83 909.45,417.61 910.37,417.41 911.30,417.20 912.17,417.01 913.03,416.84 913.90,416.68 914.77,416.52 915.63,416.36 916.50,416.20 917.50,415.98 918.50,415.74 919.50,415.47 920.50,415.21 921.50,414.96 922.50,414.74 923.50,414.56 924.50,414.44 925.50,414.40 926.35,414.50 927.20,414.74 928.05,415.05 928.90,415.36 929.75,415.60 930.60,415.70 931.51,415.54 932.43,415.12 933.34,414.53 934.26,413.85 935.17,413.16 936.09,412.55 937.00,412.10 937.94,411.75 938.88,411.40 939.82,411.05 940.76,410.72 941.70,410.42 942.64,410.15 943.58,409.92 944.52,409.75 945.46,409.64 946.40,409.60 947.40,409.62 948.40,409.68 949.40,409.78 950.40,409.91 951.40,410.06 952.40,410.25 953.40,410.45 954.40,410.67 955.40,410.90 956.25,411.19 957.10,411.61 957.95,412.11 958.80,412.63 959.65,413.11 960.50,413.50 961.43,413.79 962.36,413.98 963.29,414.14 964.21,414.31 965.14,414.54 966.07,414.89 967.00,415.40 967.83,421.00 968.67,432.23 969.50,442.40 970.32,449.50 971.14,456.18 971.96,462.31 972.78,467.79 973.60,472.50 974.48,476.73 975.37,480.35 976.25,483.60 977.13,486.73 978.02,489.98 978.90,493.60 979.80,497.96 980.70,502.81 981.60,507.68 982.50,512.07 983.40,515.50 984.25,517.97 985.10,520.14 985.95,522.07 986.80,523.82 987.65,525.44 988.50,527.00 989.41,528.69 990.33,530.38 991.24,532.01 992.16,533.52 993.07,534.83 993.99,535.88 994.90,536.60 995.80,537.11 996.70,537.58 997.60,537.95 998.50,538.21 999.40,538.30 1000.37,538.08 1001.33,537.50 1002.30,536.65 1003.27,535.61 1004.23,534.50 1005.20,533.40 1006.11,532.29 1007.03,531.01 1007.94,529.59 1008.86,528.06 1009.77,526.46 1010.69,524.83 1011.60,523.20 1012.56,521.41 1013.52,519.48 1014.49,517.47 1015.45,515.41 1016.41,513.37 1017.38,511.38 1018.34,509.51 1019.30,507.80 1020.30,506.13 1021.30,504.50 1022.30,502.90 1023.30,501.36 1024.30,499.88 1025.30,498.49 1026.30,497.18 1027.30,495.98 1028.30,494.90 1029.27,493.93 1030.23,492.99 1031.20,492.09 1032.17,491.23 1033.13,490.40 1034.10,489.62 1035.07,488.88 1036.03,488.18 1037.00,487.54 1037.97,486.94 1038.93,486.39 1039.90,485.90 1040.75,485.53 1041.60,485.21 1042.45,484.93 1043.30,484.65 1044.15,484.35 1045.00,484.00 1045.97,483.53 1046.95,483.00 1047.92,482.44 1048.90,481.84 1049.88,481.21 1050.85,480.58 1051.83,479.94 1052.80,479.30 1053.73,478.69 1054.66,478.06 1055.59,477.42 1056.51,476.77 1057.44,476.11 1058.37,475.46 1059.30,474.80 1060.26,474.07 1061.22,473.28 1062.19,472.45 1063.15,471.64 1064.11,470.87 1065.08,470.20 1066.04,469.66 1067.00,469.30 1067.85,469.07 1068.70,468.86 1069.55,468.68 1070.40,468.53 1071.25,468.43 1072.10,468.40 1072.95,468.44 1073.80,468.56 1074.65,468.70 1075.50,468.84 1076.35,468.96 1077.20,469.00 1078.07,468.92 1078.93,468.71 1079.80,468.41 1080.67,468.08 1081.53,467.76 1082.40,467.50 1083.36,467.24 1084.33,466.96 1085.29,466.68 1086.25,466.41 1087.21,466.17 1088.17,465.97 1089.14,465.85 1090.10,465.80 1091.06,465.80 1092.02,465.80 1092.99,465.80 1093.95,465.80 1094.91,465.80 1095.88,465.80 1096.84,465.80 1097.80,465.80 1098.65,465.52 1099.50,464.81 1100.35,463.90 1101.20,462.99 1102.05,462.28 1102.90,462.00 1103.77,462.69 1104.63,464.23 1105.50,465.80 1106.40,467.26 1107.30,468.82 1108.20,470.36 1109.10,471.77 1110.00,472.90 1110.95,473.84 1111.90,474.65 1112.85,475.37 1113.80,476.04 1114.75,476.71 1115.70,477.40 1116.57,478.05 1117.43,478.68 1118.30,479.31 1119.17,479.94 1120.03,480.56 1120.90,481.20 1121.86,481.96 1122.83,482.78 1123.79,483.62 1124.75,484.46 1125.71,485.25 1126.67,485.96 1127.64,486.56 1128.60,487.00 1129.51,487.34 1130.43,487.66 1131.34,487.96 1132.26,488.22 1133.17,488.42 1134.09,488.55 1135.00,488.60 1136.00,488.57 1137.00,488.47 1138.00,488.33 1139.00,488.15 1140.00,487.93 1141.00,487.70 1142.00,487.46 1143.00,487.23 1144.00,487.00 1145.00,486.75 1146.00,486.45 1147.00,486.11 1148.00,485.76 1149.00,485.41 1150.00,485.09 1151.00,484.82 1152.00,484.62 1153.00,484.50 1153.96,484.44 1154.92,484.38 1155.89,484.33 1156.85,484.29 1157.81,484.25 1158.78,484.22 1159.74,484.21 1160.70,484.20 1161.66,484.24 1162.62,484.37 1163.59,484.56 1164.55,484.82 1165.51,485.15 1166.48,485.52 1167.44,485.94 1168.40,486.40 1169.35,487.22 1170.30,488.49 1171.25,489.84 1172.20,490.90 1173.17,491.61 1174.15,492.19 1175.12,492.76 1176.10,493.40 1177.01,494.16 1177.93,495.05 1178.84,496.01 1179.76,496.97 1180.67,497.86 1181.59,498.63 1182.50,499.20 1183.46,499.68 1184.42,500.15 1185.39,500.59 1186.35,500.98 1187.31,501.32 1188.28,501.57 1189.24,501.74 1190.20,501.80 1191.20,501.76 1192.20,501.66 1193.20,501.51 1194.20,501.31 1195.20,501.06 1196.20,500.79 1197.20,500.50 1198.20,500.20 1199.20,499.90 1200.16,499.57 1201.12,499.16 1202.09,498.70 1203.05,498.19 1204.01,497.66 1204.98,497.10 1205.94,496.55 1206.90,496.00 1207.84,495.47 1208.77,494.93 1209.71,494.37 1210.65,493.80 1211.58,493.22 1212.52,492.63 1213.45,492.04 1214.39,491.43 1215.33,490.83 1216.26,490.21 1217.20,489.60 1218.13,488.97 1219.05,488.32 1219.98,487.65 1220.91,486.96 1221.84,486.27 1222.76,485.59 1223.69,484.92 1224.62,484.26 1225.55,483.64 1226.47,483.05 1227.40,482.50 1228.36,481.97 1229.33,481.47 1230.29,480.98 1231.25,480.52 1232.21,480.07 1233.17,479.64 1234.14,479.22 1235.10,478.80 1236.06,478.39 1237.02,478.00 1237.99,477.62 1238.95,477.25 1239.91,476.89 1240.88,476.52 1241.84,476.16 1242.80,475.80 1243.74,475.45 1244.67,475.10 1245.61,474.76 1246.55,474.42 1247.48,474.08 1248.42,473.74 1249.35,473.40 1250.29,473.05 1251.23,472.71 1252.16,472.36 1253.10,472.00 1254.05,471.60 1255.01,471.14 1255.96,470.65 1256.92,470.14 1257.87,469.64 1258.83,469.16 1259.78,468.72 1260.74,468.35 1261.69,468.06 1262.65,467.87 1263.60,467.80 1264.50,468.96 1265.40,471.73 1266.30,475.04 1267.20,477.80 1268.16,480.03 1269.12,482.17 1270.09,484.21 1271.05,486.16 1272.01,488.03 1272.98,489.83 1273.94,491.55 1274.90,493.20 1275.86,494.75 1276.82,496.20 1277.78,497.56 1278.74,498.87 1279.70,500.15 1280.66,501.43 1281.62,502.72 1282.58,504.07 1283.54,505.48 1284.50,507.00 1285.40,508.62 1286.30,510.44 1287.20,512.26 1288.10,513.94 1289.00,515.30 1289.85,516.34 1290.70,517.28 1291.55,518.14 1292.40,518.91 1293.25,519.59 1294.10,520.20 1295.01,520.82 1295.93,521.46 1296.84,522.06 1297.76,522.59 1298.67,523.01 1299.59,523.30 1300.50,523.40 1301.43,523.40 1302.36,523.40 1303.29,523.40 1304.21,523.40 1305.14,523.40 1306.07,523.40 1307.00,523.40 1307.91,523.30 1308.83,523.03 1309.74,522.63 1310.66,522.15 1311.57,521.62 1312.49,521.09 1313.40,520.60 1314.25,520.09 1315.10,519.47 1315.95,518.83 1316.80,518.26 1317.65,517.86 1318.50,517.70 1319.41,517.73 1320.33,517.82 1321.24,517.94 1322.16,518.06 1323.07,518.18 1323.99,518.27 1324.90,518.30 1325.77,518.26 1326.63,518.14 1327.50,518.00 1328.37,517.86 1329.23,517.74 1330.10,517.70 1331.05,517.94 1332.00,518.49 1332.95,519.13 1333.90,519.60 1334.81,519.86 1335.73,520.05 1336.64,520.20 1337.56,520.36 1338.47,520.54 1339.39,520.77 1340.30,521.10 1341.28,521.92 1342.25,523.29 1343.22,524.78 1344.20,526.00 1345.05,526.81 1345.90,527.58 1346.75,528.30 1347.60,528.94 1348.45,529.48 1349.30,529.90 1350.17,530.26 1351.03,530.61 1351.90,530.92 1352.77,531.17 1353.63,531.34 1354.50,531.40 1355.41,531.35 1356.33,531.23 1357.24,531.04 1358.16,530.79 1359.07,530.51 1359.99,530.21 1360.90,529.90 1361.81,529.53 1362.73,529.07 1363.64,528.53 1364.56,527.93 1365.47,527.29 1366.39,526.64 1367.30,526.00 1368.21,525.35 1369.13,524.67 1370.04,523.95 1370.96,523.21 1371.87,522.46 1372.79,521.68 1373.70,520.90 1374.65,520.06 1375.61,519.18 1376.56,518.27 1377.52,517.34 1378.47,516.40 1379.43,515.46 1380.38,514.51 1381.34,513.58 1382.29,512.66 1383.25,511.76 1384.20,510.90 1385.13,510.09 1386.06,509.29 1386.99,508.52 1387.92,507.75 1388.85,506.99 1389.78,506.24 1390.71,505.48 1391.64,504.73 1392.57,503.97 1393.50,503.20 1394.42,502.43 1395.34,501.66 1396.26,500.88 1397.18,500.10 1398.10,499.33 1399.02,498.55 1399.94,497.78 1400.86,497.01 1401.78,496.25 1402.70,495.50 1403.68,494.70 1404.66,493.90 1405.65,493.10 1406.63,492.30 1407.61,491.50 1408.59,490.71 1409.57,489.94 1410.55,489.18 1411.54,488.43 1412.52,487.70 1413.50,487.00 1414.48,486.32 1415.46,485.65 1416.45,484.99 1417.43,484.35 1418.41,483.72 1419.39,483.10 1420.37,482.49 1421.35,481.89 1422.34,481.29 1423.32,480.69 1424.30,480.10 1425.25,479.53 1426.19,478.96 1427.14,478.40 1428.08,477.84 1429.03,477.28 1429.98,476.73 1430.92,476.19 1431.87,475.65 1432.82,475.12 1433.76,474.60 1434.71,474.09 1435.65,473.59 1436.60,473.10 1437.58,472.61 1438.56,472.12 1439.55,471.65 1440.53,471.18 1441.51,470.72 1442.49,470.27 1443.47,469.83 1444.45,469.39 1445.44,468.96 1446.42,468.53 1447.40,468.10 1448.35,467.69 1449.29,467.28 1450.24,466.87 1451.18,466.47 1452.13,466.07 1453.08,465.67 1454.02,465.28 1454.97,464.89 1455.92,464.52 1456.86,464.15 1457.81,463.79 1458.75,463.44 1459.70,463.10 1460.65,462.77 1461.59,462.44 1462.54,462.12 1463.48,461.81 1464.43,461.50 1465.38,461.20 1466.32,460.90 1467.27,460.61 1468.22,460.33 1469.16,460.06 1470.11,459.80 1471.05,459.54 1472.00,459.30 1472.98,459.06 1473.96,458.82 1474.95,458.58 1475.93,458.35 1476.91,458.13 1477.89,457.92 1478.87,457.72 1479.85,457.52 1480.84,457.34 1481.82,457.16 1482.80,457.00 1483.76,456.85 1484.72,456.72 1485.69,456.59 1486.65,456.47 1487.61,456.36 1488.58,456.24 1489.54,456.12 1490.50,456.00" fill="none" stroke="#2962ff" stroke-width="1.4" stroke-linejoin="round"/>
</g>
<g font-size="13.6" fill="#131722">
<text x="1538.6" y="71.5">60.00</text>
<text x="1538.6" y="135.1">50.00</text>
<text x="1538.6" y="198.6">40.00</text>
<text x="1538.6" y="262.1">30.00</text>
<text x="1538.6" y="325.8">20.00</text>
<text x="1538.6" y="389.1">10.00</text>
<text x="1538.6" y="516.1"><tspan font-size="12">−</tspan><tspan dx="0.6">10.00</tspan></text>
<text x="1538.6" y="579.8"><tspan font-size="12">−</tspan><tspan dx="0.6">20.00</tspan></text>
<text x="1538.6" y="643.4"><tspan font-size="12">−</tspan><tspan dx="0.6">30.00</tspan></text>
<text x="538.5" y="702" text-anchor="middle">Jul</text>
<text x="1209" y="702" text-anchor="middle" font-weight="bold" font-size="13.9">2025</text>
</g>
<g font-size="12.85">
<text x="19.6" y="51.7" fill="#131722">MACD (12, 26, close)</text>
<text x="150.4" y="51.7" fill="#b2dfdb">0.60</text>
<text x="184.2" y="51.7" fill="#2962ff">−1.35</text>
<text x="224.7" y="51.7" fill="#ff6d00">−1.96</text>
</g>
<path d="M1530 435 H1569.7 a2 2 0 0 1 2 2 V452.9 H1530 Z" fill="#b2dfdb"/>
<path d="M1530 453.9 H1575.5 a2 2 0 0 1 2 2 V469.9 a2 2 0 0 1 -2 2 H1530 Z" fill="#2962ff"/>
<path d="M1530 472.6 H1575.5 a2 2 0 0 1 2 2 V488.6 a2 2 0 0 1 -2 2 H1530 Z" fill="#ff6d00"/>
<g font-size="13.6">
<text x="1539.2" y="449.2" fill="#131722">0.60</text>
<text x="1539.6" y="467.6" fill="#ffffff"><tspan font-size="12">−</tspan><tspan dx="0.6">1.35</tspan></text>
<text x="1539.6" y="486.4" fill="#ffffff"><tspan font-size="12">−</tspan><tspan dx="0.6">1.96</tspan></text>
</g>
<g fill="#131722">
<path d="M13.6 737 H26.6 V753.3 H20.1 V743.5 H13.6 Z"/>
<circle cx="32.5" cy="740.3" r="3.4"/>
<path d="M38.7 737 H46.5 L40.9 753.3 H33 Z"/>
</g>
<text x="54.3" y="753.3" font-size="22.4" letter-spacing="0.25" font-weight="bold" fill="#131722">TradingView</text>
</svg>
</body></html>
